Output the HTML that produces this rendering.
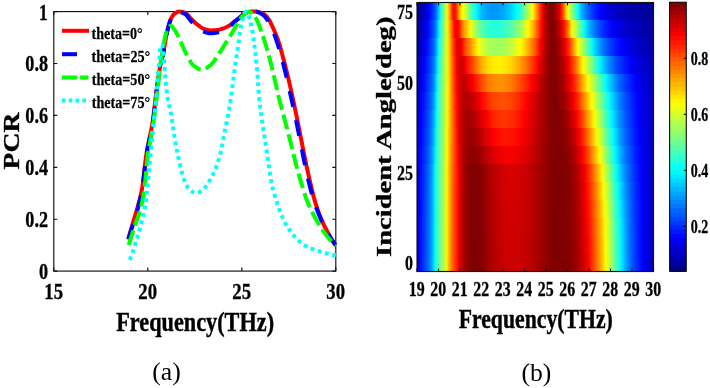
<!DOCTYPE html><html><head><meta charset="utf-8"><style>html,body{margin:0;padding:0;background:#fff;width:710px;height:388px;overflow:hidden}svg{display:block;will-change:transform}</style></head><body><svg width="710" height="388" viewBox="0 0 710 388" font-family="Liberation Serif, serif"><defs><linearGradient id="h0"><stop offset="0.000" stop-color="#0000e4"/><stop offset="0.008" stop-color="#0000fc"/><stop offset="0.017" stop-color="#0015ff"/><stop offset="0.025" stop-color="#002dff"/><stop offset="0.034" stop-color="#0045ff"/><stop offset="0.042" stop-color="#005dff"/><stop offset="0.050" stop-color="#0078ff"/><stop offset="0.059" stop-color="#0095ff"/><stop offset="0.067" stop-color="#00c0ff"/><stop offset="0.076" stop-color="#00fcff"/><stop offset="0.084" stop-color="#36ffc9"/><stop offset="0.092" stop-color="#5dffa2"/><stop offset="0.101" stop-color="#7fff80"/><stop offset="0.109" stop-color="#a1ff5e"/><stop offset="0.118" stop-color="#cdff32"/><stop offset="0.126" stop-color="#fff400"/><stop offset="0.134" stop-color="#ffba00"/><stop offset="0.143" stop-color="#ff8800"/><stop offset="0.151" stop-color="#ff5e00"/><stop offset="0.160" stop-color="#ff3d00"/><stop offset="0.168" stop-color="#ff1e00"/><stop offset="0.176" stop-color="#f50000"/><stop offset="0.185" stop-color="#cf0000"/><stop offset="0.193" stop-color="#b40000"/><stop offset="0.202" stop-color="#9f0000"/><stop offset="0.210" stop-color="#920000"/><stop offset="0.218" stop-color="#890000"/><stop offset="0.227" stop-color="#840000"/><stop offset="0.235" stop-color="#810000"/><stop offset="0.244" stop-color="#800000"/><stop offset="0.252" stop-color="#800000"/><stop offset="0.261" stop-color="#810000"/><stop offset="0.269" stop-color="#830000"/><stop offset="0.277" stop-color="#870000"/><stop offset="0.286" stop-color="#8f0000"/><stop offset="0.294" stop-color="#970000"/><stop offset="0.303" stop-color="#9f0000"/><stop offset="0.311" stop-color="#a60000"/><stop offset="0.319" stop-color="#ad0000"/><stop offset="0.328" stop-color="#b30000"/><stop offset="0.336" stop-color="#b80000"/><stop offset="0.345" stop-color="#bd0000"/><stop offset="0.353" stop-color="#c20000"/><stop offset="0.361" stop-color="#c60000"/><stop offset="0.370" stop-color="#c80000"/><stop offset="0.378" stop-color="#ca0000"/><stop offset="0.387" stop-color="#cc0000"/><stop offset="0.395" stop-color="#cc0000"/><stop offset="0.403" stop-color="#cc0000"/><stop offset="0.412" stop-color="#cc0000"/><stop offset="0.420" stop-color="#cb0000"/><stop offset="0.429" stop-color="#cb0000"/><stop offset="0.437" stop-color="#c90000"/><stop offset="0.445" stop-color="#c70000"/><stop offset="0.454" stop-color="#c50000"/><stop offset="0.462" stop-color="#c30000"/><stop offset="0.471" stop-color="#bf0000"/><stop offset="0.479" stop-color="#bb0000"/><stop offset="0.487" stop-color="#b70000"/><stop offset="0.496" stop-color="#b20000"/><stop offset="0.504" stop-color="#ac0000"/><stop offset="0.513" stop-color="#a60000"/><stop offset="0.521" stop-color="#a10000"/><stop offset="0.529" stop-color="#9c0000"/><stop offset="0.538" stop-color="#960000"/><stop offset="0.546" stop-color="#900000"/><stop offset="0.555" stop-color="#8b0000"/><stop offset="0.563" stop-color="#870000"/><stop offset="0.571" stop-color="#830000"/><stop offset="0.580" stop-color="#810000"/><stop offset="0.588" stop-color="#800000"/><stop offset="0.597" stop-color="#800000"/><stop offset="0.605" stop-color="#800000"/><stop offset="0.613" stop-color="#800000"/><stop offset="0.622" stop-color="#800000"/><stop offset="0.630" stop-color="#820000"/><stop offset="0.639" stop-color="#840000"/><stop offset="0.647" stop-color="#880000"/><stop offset="0.655" stop-color="#8c0000"/><stop offset="0.664" stop-color="#920000"/><stop offset="0.672" stop-color="#9b0000"/><stop offset="0.681" stop-color="#a60000"/><stop offset="0.689" stop-color="#b40000"/><stop offset="0.697" stop-color="#c40000"/><stop offset="0.706" stop-color="#d40000"/><stop offset="0.714" stop-color="#e60000"/><stop offset="0.723" stop-color="#f90000"/><stop offset="0.731" stop-color="#ff1100"/><stop offset="0.739" stop-color="#ff2b00"/><stop offset="0.748" stop-color="#ff4600"/><stop offset="0.756" stop-color="#ff6200"/><stop offset="0.765" stop-color="#ff7e00"/><stop offset="0.773" stop-color="#ff9c00"/><stop offset="0.782" stop-color="#ffbb00"/><stop offset="0.790" stop-color="#ffdb00"/><stop offset="0.798" stop-color="#fffd00"/><stop offset="0.807" stop-color="#dfff20"/><stop offset="0.815" stop-color="#bdff42"/><stop offset="0.824" stop-color="#99ff66"/><stop offset="0.832" stop-color="#75ff8a"/><stop offset="0.840" stop-color="#51ffae"/><stop offset="0.849" stop-color="#2dffd2"/><stop offset="0.857" stop-color="#0afff5"/><stop offset="0.866" stop-color="#00e9ff"/><stop offset="0.874" stop-color="#00caff"/><stop offset="0.882" stop-color="#00abff"/><stop offset="0.891" stop-color="#008eff"/><stop offset="0.899" stop-color="#0074ff"/><stop offset="0.908" stop-color="#005dff"/><stop offset="0.916" stop-color="#0049ff"/><stop offset="0.924" stop-color="#0036ff"/><stop offset="0.933" stop-color="#0025ff"/><stop offset="0.941" stop-color="#0015ff"/><stop offset="0.950" stop-color="#0007ff"/><stop offset="0.958" stop-color="#0000f8"/><stop offset="0.966" stop-color="#0000eb"/><stop offset="0.975" stop-color="#0000df"/><stop offset="0.983" stop-color="#0000d3"/><stop offset="0.992" stop-color="#0000c8"/><stop offset="1.000" stop-color="#0000be"/></linearGradient><linearGradient id="h1"><stop offset="0.000" stop-color="#0000e3"/><stop offset="0.008" stop-color="#0000fb"/><stop offset="0.017" stop-color="#0013ff"/><stop offset="0.025" stop-color="#002bff"/><stop offset="0.034" stop-color="#0043ff"/><stop offset="0.042" stop-color="#005bff"/><stop offset="0.050" stop-color="#0076ff"/><stop offset="0.059" stop-color="#0094ff"/><stop offset="0.067" stop-color="#00bfff"/><stop offset="0.076" stop-color="#00fbff"/><stop offset="0.084" stop-color="#35ffca"/><stop offset="0.092" stop-color="#5cffa3"/><stop offset="0.101" stop-color="#7eff81"/><stop offset="0.109" stop-color="#9fff60"/><stop offset="0.118" stop-color="#cbff34"/><stop offset="0.126" stop-color="#fff500"/><stop offset="0.134" stop-color="#ffbb00"/><stop offset="0.143" stop-color="#ff8a00"/><stop offset="0.151" stop-color="#ff5f00"/><stop offset="0.160" stop-color="#ff3e00"/><stop offset="0.168" stop-color="#ff1f00"/><stop offset="0.176" stop-color="#f60000"/><stop offset="0.185" stop-color="#d00000"/><stop offset="0.193" stop-color="#b40000"/><stop offset="0.202" stop-color="#a00000"/><stop offset="0.210" stop-color="#930000"/><stop offset="0.218" stop-color="#890000"/><stop offset="0.227" stop-color="#850000"/><stop offset="0.235" stop-color="#810000"/><stop offset="0.244" stop-color="#800000"/><stop offset="0.252" stop-color="#800000"/><stop offset="0.261" stop-color="#820000"/><stop offset="0.269" stop-color="#840000"/><stop offset="0.277" stop-color="#890000"/><stop offset="0.286" stop-color="#900000"/><stop offset="0.294" stop-color="#990000"/><stop offset="0.303" stop-color="#a10000"/><stop offset="0.311" stop-color="#a80000"/><stop offset="0.319" stop-color="#af0000"/><stop offset="0.328" stop-color="#b50000"/><stop offset="0.336" stop-color="#ba0000"/><stop offset="0.345" stop-color="#c00000"/><stop offset="0.353" stop-color="#c40000"/><stop offset="0.361" stop-color="#c80000"/><stop offset="0.370" stop-color="#cb0000"/><stop offset="0.378" stop-color="#cd0000"/><stop offset="0.387" stop-color="#ce0000"/><stop offset="0.395" stop-color="#cf0000"/><stop offset="0.403" stop-color="#cf0000"/><stop offset="0.412" stop-color="#ce0000"/><stop offset="0.420" stop-color="#cd0000"/><stop offset="0.429" stop-color="#cd0000"/><stop offset="0.437" stop-color="#cb0000"/><stop offset="0.445" stop-color="#c90000"/><stop offset="0.454" stop-color="#c60000"/><stop offset="0.462" stop-color="#c40000"/><stop offset="0.471" stop-color="#c00000"/><stop offset="0.479" stop-color="#bc0000"/><stop offset="0.487" stop-color="#b80000"/><stop offset="0.496" stop-color="#b30000"/><stop offset="0.504" stop-color="#ad0000"/><stop offset="0.513" stop-color="#a70000"/><stop offset="0.521" stop-color="#a10000"/><stop offset="0.529" stop-color="#9c0000"/><stop offset="0.538" stop-color="#960000"/><stop offset="0.546" stop-color="#910000"/><stop offset="0.555" stop-color="#8b0000"/><stop offset="0.563" stop-color="#870000"/><stop offset="0.571" stop-color="#840000"/><stop offset="0.580" stop-color="#810000"/><stop offset="0.588" stop-color="#800000"/><stop offset="0.597" stop-color="#800000"/><stop offset="0.605" stop-color="#800000"/><stop offset="0.613" stop-color="#800000"/><stop offset="0.622" stop-color="#810000"/><stop offset="0.630" stop-color="#830000"/><stop offset="0.639" stop-color="#860000"/><stop offset="0.647" stop-color="#890000"/><stop offset="0.655" stop-color="#8e0000"/><stop offset="0.664" stop-color="#950000"/><stop offset="0.672" stop-color="#9e0000"/><stop offset="0.681" stop-color="#a90000"/><stop offset="0.689" stop-color="#b70000"/><stop offset="0.697" stop-color="#c70000"/><stop offset="0.706" stop-color="#d80000"/><stop offset="0.714" stop-color="#ea0000"/><stop offset="0.723" stop-color="#fe0000"/><stop offset="0.731" stop-color="#ff1600"/><stop offset="0.739" stop-color="#ff3000"/><stop offset="0.748" stop-color="#ff4b00"/><stop offset="0.756" stop-color="#ff6600"/><stop offset="0.765" stop-color="#ff8300"/><stop offset="0.773" stop-color="#ffa100"/><stop offset="0.782" stop-color="#ffc100"/><stop offset="0.790" stop-color="#ffe100"/><stop offset="0.798" stop-color="#fcff03"/><stop offset="0.807" stop-color="#daff25"/><stop offset="0.815" stop-color="#b7ff48"/><stop offset="0.824" stop-color="#94ff6b"/><stop offset="0.832" stop-color="#70ff8f"/><stop offset="0.840" stop-color="#4cffb3"/><stop offset="0.849" stop-color="#28ffd7"/><stop offset="0.857" stop-color="#05fffa"/><stop offset="0.866" stop-color="#00e4ff"/><stop offset="0.874" stop-color="#00c5ff"/><stop offset="0.882" stop-color="#00a7ff"/><stop offset="0.891" stop-color="#008aff"/><stop offset="0.899" stop-color="#0072ff"/><stop offset="0.908" stop-color="#005bff"/><stop offset="0.916" stop-color="#0047ff"/><stop offset="0.924" stop-color="#0035ff"/><stop offset="0.933" stop-color="#0024ff"/><stop offset="0.941" stop-color="#0014ff"/><stop offset="0.950" stop-color="#0006ff"/><stop offset="0.958" stop-color="#0000f7"/><stop offset="0.966" stop-color="#0000ea"/><stop offset="0.975" stop-color="#0000de"/><stop offset="0.983" stop-color="#0000d3"/><stop offset="0.992" stop-color="#0000c8"/><stop offset="1.000" stop-color="#0000be"/></linearGradient><linearGradient id="h2"><stop offset="0.000" stop-color="#0000e2"/><stop offset="0.008" stop-color="#0000fa"/><stop offset="0.017" stop-color="#0012ff"/><stop offset="0.025" stop-color="#002aff"/><stop offset="0.034" stop-color="#0042ff"/><stop offset="0.042" stop-color="#005aff"/><stop offset="0.050" stop-color="#0074ff"/><stop offset="0.059" stop-color="#0093ff"/><stop offset="0.067" stop-color="#00beff"/><stop offset="0.076" stop-color="#00f9ff"/><stop offset="0.084" stop-color="#33ffcc"/><stop offset="0.092" stop-color="#5bffa4"/><stop offset="0.101" stop-color="#7dff82"/><stop offset="0.109" stop-color="#9eff61"/><stop offset="0.118" stop-color="#caff35"/><stop offset="0.126" stop-color="#fff700"/><stop offset="0.134" stop-color="#ffbd00"/><stop offset="0.143" stop-color="#ff8b00"/><stop offset="0.151" stop-color="#ff6000"/><stop offset="0.160" stop-color="#ff3e00"/><stop offset="0.168" stop-color="#ff2000"/><stop offset="0.176" stop-color="#f70000"/><stop offset="0.185" stop-color="#d00000"/><stop offset="0.193" stop-color="#b50000"/><stop offset="0.202" stop-color="#a00000"/><stop offset="0.210" stop-color="#930000"/><stop offset="0.218" stop-color="#8a0000"/><stop offset="0.227" stop-color="#850000"/><stop offset="0.235" stop-color="#810000"/><stop offset="0.244" stop-color="#800000"/><stop offset="0.252" stop-color="#810000"/><stop offset="0.261" stop-color="#830000"/><stop offset="0.269" stop-color="#850000"/><stop offset="0.277" stop-color="#8a0000"/><stop offset="0.286" stop-color="#920000"/><stop offset="0.294" stop-color="#9b0000"/><stop offset="0.303" stop-color="#a30000"/><stop offset="0.311" stop-color="#aa0000"/><stop offset="0.319" stop-color="#b10000"/><stop offset="0.328" stop-color="#b70000"/><stop offset="0.336" stop-color="#bc0000"/><stop offset="0.345" stop-color="#c20000"/><stop offset="0.353" stop-color="#c70000"/><stop offset="0.361" stop-color="#ca0000"/><stop offset="0.370" stop-color="#cd0000"/><stop offset="0.378" stop-color="#cf0000"/><stop offset="0.387" stop-color="#d10000"/><stop offset="0.395" stop-color="#d10000"/><stop offset="0.403" stop-color="#d10000"/><stop offset="0.412" stop-color="#d00000"/><stop offset="0.420" stop-color="#d00000"/><stop offset="0.429" stop-color="#cf0000"/><stop offset="0.437" stop-color="#cd0000"/><stop offset="0.445" stop-color="#cb0000"/><stop offset="0.454" stop-color="#c80000"/><stop offset="0.462" stop-color="#c50000"/><stop offset="0.471" stop-color="#c10000"/><stop offset="0.479" stop-color="#bd0000"/><stop offset="0.487" stop-color="#b90000"/><stop offset="0.496" stop-color="#b30000"/><stop offset="0.504" stop-color="#ad0000"/><stop offset="0.513" stop-color="#a70000"/><stop offset="0.521" stop-color="#a10000"/><stop offset="0.529" stop-color="#9c0000"/><stop offset="0.538" stop-color="#960000"/><stop offset="0.546" stop-color="#910000"/><stop offset="0.555" stop-color="#8b0000"/><stop offset="0.563" stop-color="#870000"/><stop offset="0.571" stop-color="#840000"/><stop offset="0.580" stop-color="#820000"/><stop offset="0.588" stop-color="#800000"/><stop offset="0.597" stop-color="#800000"/><stop offset="0.605" stop-color="#800000"/><stop offset="0.613" stop-color="#810000"/><stop offset="0.622" stop-color="#820000"/><stop offset="0.630" stop-color="#840000"/><stop offset="0.639" stop-color="#870000"/><stop offset="0.647" stop-color="#8b0000"/><stop offset="0.655" stop-color="#900000"/><stop offset="0.664" stop-color="#970000"/><stop offset="0.672" stop-color="#a10000"/><stop offset="0.681" stop-color="#ac0000"/><stop offset="0.689" stop-color="#ba0000"/><stop offset="0.697" stop-color="#ca0000"/><stop offset="0.706" stop-color="#dc0000"/><stop offset="0.714" stop-color="#ee0000"/><stop offset="0.723" stop-color="#ff0300"/><stop offset="0.731" stop-color="#ff1a00"/><stop offset="0.739" stop-color="#ff3400"/><stop offset="0.748" stop-color="#ff5000"/><stop offset="0.756" stop-color="#ff6b00"/><stop offset="0.765" stop-color="#ff8800"/><stop offset="0.773" stop-color="#ffa700"/><stop offset="0.782" stop-color="#ffc600"/><stop offset="0.790" stop-color="#ffe600"/><stop offset="0.798" stop-color="#f7ff08"/><stop offset="0.807" stop-color="#d5ff2a"/><stop offset="0.815" stop-color="#b2ff4d"/><stop offset="0.824" stop-color="#8eff71"/><stop offset="0.832" stop-color="#6aff95"/><stop offset="0.840" stop-color="#46ffb9"/><stop offset="0.849" stop-color="#22ffdd"/><stop offset="0.857" stop-color="#00ffff"/><stop offset="0.866" stop-color="#00dfff"/><stop offset="0.874" stop-color="#00c0ff"/><stop offset="0.882" stop-color="#00a3ff"/><stop offset="0.891" stop-color="#0087ff"/><stop offset="0.899" stop-color="#006fff"/><stop offset="0.908" stop-color="#005aff"/><stop offset="0.916" stop-color="#0046ff"/><stop offset="0.924" stop-color="#0034ff"/><stop offset="0.933" stop-color="#0023ff"/><stop offset="0.941" stop-color="#0014ff"/><stop offset="0.950" stop-color="#0005ff"/><stop offset="0.958" stop-color="#0000f7"/><stop offset="0.966" stop-color="#0000ea"/><stop offset="0.975" stop-color="#0000de"/><stop offset="0.983" stop-color="#0000d3"/><stop offset="0.992" stop-color="#0000c8"/><stop offset="1.000" stop-color="#0000bf"/></linearGradient><linearGradient id="h3"><stop offset="0.000" stop-color="#0000e1"/><stop offset="0.008" stop-color="#0000f8"/><stop offset="0.017" stop-color="#0011ff"/><stop offset="0.025" stop-color="#0029ff"/><stop offset="0.034" stop-color="#0040ff"/><stop offset="0.042" stop-color="#0058ff"/><stop offset="0.050" stop-color="#0072ff"/><stop offset="0.059" stop-color="#0092ff"/><stop offset="0.067" stop-color="#00bdff"/><stop offset="0.076" stop-color="#00f8ff"/><stop offset="0.084" stop-color="#31ffce"/><stop offset="0.092" stop-color="#59ffa6"/><stop offset="0.101" stop-color="#7bff84"/><stop offset="0.109" stop-color="#9dff62"/><stop offset="0.118" stop-color="#c8ff37"/><stop offset="0.126" stop-color="#fff900"/><stop offset="0.134" stop-color="#ffbe00"/><stop offset="0.143" stop-color="#ff8d00"/><stop offset="0.151" stop-color="#ff6100"/><stop offset="0.160" stop-color="#ff3f00"/><stop offset="0.168" stop-color="#ff2100"/><stop offset="0.176" stop-color="#f80000"/><stop offset="0.185" stop-color="#d00000"/><stop offset="0.193" stop-color="#b50000"/><stop offset="0.202" stop-color="#a00000"/><stop offset="0.210" stop-color="#930000"/><stop offset="0.218" stop-color="#8a0000"/><stop offset="0.227" stop-color="#850000"/><stop offset="0.235" stop-color="#820000"/><stop offset="0.244" stop-color="#800000"/><stop offset="0.252" stop-color="#810000"/><stop offset="0.261" stop-color="#840000"/><stop offset="0.269" stop-color="#860000"/><stop offset="0.277" stop-color="#8b0000"/><stop offset="0.286" stop-color="#930000"/><stop offset="0.294" stop-color="#9d0000"/><stop offset="0.303" stop-color="#a50000"/><stop offset="0.311" stop-color="#ac0000"/><stop offset="0.319" stop-color="#b30000"/><stop offset="0.328" stop-color="#b90000"/><stop offset="0.336" stop-color="#be0000"/><stop offset="0.345" stop-color="#c40000"/><stop offset="0.353" stop-color="#c90000"/><stop offset="0.361" stop-color="#cd0000"/><stop offset="0.370" stop-color="#cf0000"/><stop offset="0.378" stop-color="#d10000"/><stop offset="0.387" stop-color="#d30000"/><stop offset="0.395" stop-color="#d40000"/><stop offset="0.403" stop-color="#d30000"/><stop offset="0.412" stop-color="#d30000"/><stop offset="0.420" stop-color="#d20000"/><stop offset="0.429" stop-color="#d10000"/><stop offset="0.437" stop-color="#cf0000"/><stop offset="0.445" stop-color="#cc0000"/><stop offset="0.454" stop-color="#c90000"/><stop offset="0.462" stop-color="#c60000"/><stop offset="0.471" stop-color="#c30000"/><stop offset="0.479" stop-color="#be0000"/><stop offset="0.487" stop-color="#b90000"/><stop offset="0.496" stop-color="#b40000"/><stop offset="0.504" stop-color="#ad0000"/><stop offset="0.513" stop-color="#a70000"/><stop offset="0.521" stop-color="#a10000"/><stop offset="0.529" stop-color="#9c0000"/><stop offset="0.538" stop-color="#960000"/><stop offset="0.546" stop-color="#900000"/><stop offset="0.555" stop-color="#8b0000"/><stop offset="0.563" stop-color="#870000"/><stop offset="0.571" stop-color="#840000"/><stop offset="0.580" stop-color="#820000"/><stop offset="0.588" stop-color="#810000"/><stop offset="0.597" stop-color="#800000"/><stop offset="0.605" stop-color="#800000"/><stop offset="0.613" stop-color="#800000"/><stop offset="0.622" stop-color="#820000"/><stop offset="0.630" stop-color="#840000"/><stop offset="0.639" stop-color="#870000"/><stop offset="0.647" stop-color="#8c0000"/><stop offset="0.655" stop-color="#920000"/><stop offset="0.664" stop-color="#990000"/><stop offset="0.672" stop-color="#a30000"/><stop offset="0.681" stop-color="#b00000"/><stop offset="0.689" stop-color="#be0000"/><stop offset="0.697" stop-color="#cf0000"/><stop offset="0.706" stop-color="#e10000"/><stop offset="0.714" stop-color="#f40000"/><stop offset="0.723" stop-color="#ff0a00"/><stop offset="0.731" stop-color="#ff2200"/><stop offset="0.739" stop-color="#ff3d00"/><stop offset="0.748" stop-color="#ff5800"/><stop offset="0.756" stop-color="#ff7400"/><stop offset="0.765" stop-color="#ff9200"/><stop offset="0.773" stop-color="#ffb100"/><stop offset="0.782" stop-color="#ffd100"/><stop offset="0.790" stop-color="#fff200"/><stop offset="0.798" stop-color="#ecff13"/><stop offset="0.807" stop-color="#c9ff36"/><stop offset="0.815" stop-color="#a6ff59"/><stop offset="0.824" stop-color="#81ff7e"/><stop offset="0.832" stop-color="#5dffa2"/><stop offset="0.840" stop-color="#39ffc6"/><stop offset="0.849" stop-color="#16ffe9"/><stop offset="0.857" stop-color="#00f4ff"/><stop offset="0.866" stop-color="#00d5ff"/><stop offset="0.874" stop-color="#00b7ff"/><stop offset="0.882" stop-color="#009bff"/><stop offset="0.891" stop-color="#0081ff"/><stop offset="0.899" stop-color="#006aff"/><stop offset="0.908" stop-color="#0056ff"/><stop offset="0.916" stop-color="#0043ff"/><stop offset="0.924" stop-color="#0031ff"/><stop offset="0.933" stop-color="#0021ff"/><stop offset="0.941" stop-color="#0012ff"/><stop offset="0.950" stop-color="#0003ff"/><stop offset="0.958" stop-color="#0000f5"/><stop offset="0.966" stop-color="#0000e9"/><stop offset="0.975" stop-color="#0000dd"/><stop offset="0.983" stop-color="#0000d2"/><stop offset="0.992" stop-color="#0000c8"/><stop offset="1.000" stop-color="#0000bf"/></linearGradient><linearGradient id="h4"><stop offset="0.000" stop-color="#0000e0"/><stop offset="0.008" stop-color="#0000f7"/><stop offset="0.017" stop-color="#0010ff"/><stop offset="0.025" stop-color="#0027ff"/><stop offset="0.034" stop-color="#003fff"/><stop offset="0.042" stop-color="#0056ff"/><stop offset="0.050" stop-color="#0071ff"/><stop offset="0.059" stop-color="#0091ff"/><stop offset="0.067" stop-color="#00bcff"/><stop offset="0.076" stop-color="#00f6ff"/><stop offset="0.084" stop-color="#30ffcf"/><stop offset="0.092" stop-color="#58ffa7"/><stop offset="0.101" stop-color="#7aff85"/><stop offset="0.109" stop-color="#9cff63"/><stop offset="0.118" stop-color="#c6ff39"/><stop offset="0.126" stop-color="#fffa00"/><stop offset="0.134" stop-color="#ffbf00"/><stop offset="0.143" stop-color="#ff8e00"/><stop offset="0.151" stop-color="#ff6200"/><stop offset="0.160" stop-color="#ff4000"/><stop offset="0.168" stop-color="#ff2200"/><stop offset="0.176" stop-color="#f90000"/><stop offset="0.185" stop-color="#d10000"/><stop offset="0.193" stop-color="#b50000"/><stop offset="0.202" stop-color="#a10000"/><stop offset="0.210" stop-color="#940000"/><stop offset="0.218" stop-color="#8a0000"/><stop offset="0.227" stop-color="#850000"/><stop offset="0.235" stop-color="#820000"/><stop offset="0.244" stop-color="#810000"/><stop offset="0.252" stop-color="#820000"/><stop offset="0.261" stop-color="#840000"/><stop offset="0.269" stop-color="#870000"/><stop offset="0.277" stop-color="#8c0000"/><stop offset="0.286" stop-color="#950000"/><stop offset="0.294" stop-color="#9e0000"/><stop offset="0.303" stop-color="#a70000"/><stop offset="0.311" stop-color="#ae0000"/><stop offset="0.319" stop-color="#b50000"/><stop offset="0.328" stop-color="#bb0000"/><stop offset="0.336" stop-color="#c00000"/><stop offset="0.345" stop-color="#c60000"/><stop offset="0.353" stop-color="#cb0000"/><stop offset="0.361" stop-color="#cf0000"/><stop offset="0.370" stop-color="#d20000"/><stop offset="0.378" stop-color="#d40000"/><stop offset="0.387" stop-color="#d50000"/><stop offset="0.395" stop-color="#d60000"/><stop offset="0.403" stop-color="#d60000"/><stop offset="0.412" stop-color="#d50000"/><stop offset="0.420" stop-color="#d40000"/><stop offset="0.429" stop-color="#d30000"/><stop offset="0.437" stop-color="#d10000"/><stop offset="0.445" stop-color="#ce0000"/><stop offset="0.454" stop-color="#cb0000"/><stop offset="0.462" stop-color="#c80000"/><stop offset="0.471" stop-color="#c40000"/><stop offset="0.479" stop-color="#bf0000"/><stop offset="0.487" stop-color="#ba0000"/><stop offset="0.496" stop-color="#b50000"/><stop offset="0.504" stop-color="#ae0000"/><stop offset="0.513" stop-color="#a80000"/><stop offset="0.521" stop-color="#a20000"/><stop offset="0.529" stop-color="#9c0000"/><stop offset="0.538" stop-color="#960000"/><stop offset="0.546" stop-color="#900000"/><stop offset="0.555" stop-color="#8b0000"/><stop offset="0.563" stop-color="#870000"/><stop offset="0.571" stop-color="#840000"/><stop offset="0.580" stop-color="#820000"/><stop offset="0.588" stop-color="#810000"/><stop offset="0.597" stop-color="#800000"/><stop offset="0.605" stop-color="#800000"/><stop offset="0.613" stop-color="#800000"/><stop offset="0.622" stop-color="#820000"/><stop offset="0.630" stop-color="#850000"/><stop offset="0.639" stop-color="#880000"/><stop offset="0.647" stop-color="#8c0000"/><stop offset="0.655" stop-color="#930000"/><stop offset="0.664" stop-color="#9b0000"/><stop offset="0.672" stop-color="#a60000"/><stop offset="0.681" stop-color="#b40000"/><stop offset="0.689" stop-color="#c30000"/><stop offset="0.697" stop-color="#d40000"/><stop offset="0.706" stop-color="#e60000"/><stop offset="0.714" stop-color="#fb0000"/><stop offset="0.723" stop-color="#ff1300"/><stop offset="0.731" stop-color="#ff2c00"/><stop offset="0.739" stop-color="#ff4700"/><stop offset="0.748" stop-color="#ff6300"/><stop offset="0.756" stop-color="#ff8000"/><stop offset="0.765" stop-color="#ff9e00"/><stop offset="0.773" stop-color="#ffbf00"/><stop offset="0.782" stop-color="#ffdf00"/><stop offset="0.790" stop-color="#feff01"/><stop offset="0.798" stop-color="#ddff22"/><stop offset="0.807" stop-color="#baff45"/><stop offset="0.815" stop-color="#95ff6a"/><stop offset="0.824" stop-color="#70ff8f"/><stop offset="0.832" stop-color="#4dffb2"/><stop offset="0.840" stop-color="#2affd5"/><stop offset="0.849" stop-color="#08fff7"/><stop offset="0.857" stop-color="#00e7ff"/><stop offset="0.866" stop-color="#00c9ff"/><stop offset="0.874" stop-color="#00acff"/><stop offset="0.882" stop-color="#0091ff"/><stop offset="0.891" stop-color="#0079ff"/><stop offset="0.899" stop-color="#0064ff"/><stop offset="0.908" stop-color="#0051ff"/><stop offset="0.916" stop-color="#003fff"/><stop offset="0.924" stop-color="#002eff"/><stop offset="0.933" stop-color="#001eff"/><stop offset="0.941" stop-color="#000fff"/><stop offset="0.950" stop-color="#0001ff"/><stop offset="0.958" stop-color="#0000f3"/><stop offset="0.966" stop-color="#0000e7"/><stop offset="0.975" stop-color="#0000dc"/><stop offset="0.983" stop-color="#0000d2"/><stop offset="0.992" stop-color="#0000c8"/><stop offset="1.000" stop-color="#0000bf"/></linearGradient><linearGradient id="h5"><stop offset="0.000" stop-color="#0000df"/><stop offset="0.008" stop-color="#0000f6"/><stop offset="0.017" stop-color="#000fff"/><stop offset="0.025" stop-color="#0026ff"/><stop offset="0.034" stop-color="#003dff"/><stop offset="0.042" stop-color="#0054ff"/><stop offset="0.050" stop-color="#006fff"/><stop offset="0.059" stop-color="#008fff"/><stop offset="0.067" stop-color="#00bbff"/><stop offset="0.076" stop-color="#00f4ff"/><stop offset="0.084" stop-color="#2effd1"/><stop offset="0.092" stop-color="#57ffa8"/><stop offset="0.101" stop-color="#79ff86"/><stop offset="0.109" stop-color="#9bff64"/><stop offset="0.118" stop-color="#c4ff3b"/><stop offset="0.126" stop-color="#fffc00"/><stop offset="0.134" stop-color="#ffc100"/><stop offset="0.143" stop-color="#ff9000"/><stop offset="0.151" stop-color="#ff6300"/><stop offset="0.160" stop-color="#ff4000"/><stop offset="0.168" stop-color="#ff2300"/><stop offset="0.176" stop-color="#fa0000"/><stop offset="0.185" stop-color="#d10000"/><stop offset="0.193" stop-color="#b60000"/><stop offset="0.202" stop-color="#a10000"/><stop offset="0.210" stop-color="#940000"/><stop offset="0.218" stop-color="#8a0000"/><stop offset="0.227" stop-color="#850000"/><stop offset="0.235" stop-color="#820000"/><stop offset="0.244" stop-color="#810000"/><stop offset="0.252" stop-color="#820000"/><stop offset="0.261" stop-color="#850000"/><stop offset="0.269" stop-color="#890000"/><stop offset="0.277" stop-color="#8e0000"/><stop offset="0.286" stop-color="#960000"/><stop offset="0.294" stop-color="#a00000"/><stop offset="0.303" stop-color="#a90000"/><stop offset="0.311" stop-color="#b00000"/><stop offset="0.319" stop-color="#b70000"/><stop offset="0.328" stop-color="#bd0000"/><stop offset="0.336" stop-color="#c30000"/><stop offset="0.345" stop-color="#c80000"/><stop offset="0.353" stop-color="#cd0000"/><stop offset="0.361" stop-color="#d10000"/><stop offset="0.370" stop-color="#d40000"/><stop offset="0.378" stop-color="#d60000"/><stop offset="0.387" stop-color="#d80000"/><stop offset="0.395" stop-color="#d80000"/><stop offset="0.403" stop-color="#d80000"/><stop offset="0.412" stop-color="#d70000"/><stop offset="0.420" stop-color="#d60000"/><stop offset="0.429" stop-color="#d50000"/><stop offset="0.437" stop-color="#d30000"/><stop offset="0.445" stop-color="#d00000"/><stop offset="0.454" stop-color="#cd0000"/><stop offset="0.462" stop-color="#c90000"/><stop offset="0.471" stop-color="#c50000"/><stop offset="0.479" stop-color="#c00000"/><stop offset="0.487" stop-color="#bb0000"/><stop offset="0.496" stop-color="#b60000"/><stop offset="0.504" stop-color="#af0000"/><stop offset="0.513" stop-color="#a80000"/><stop offset="0.521" stop-color="#a20000"/><stop offset="0.529" stop-color="#9c0000"/><stop offset="0.538" stop-color="#960000"/><stop offset="0.546" stop-color="#900000"/><stop offset="0.555" stop-color="#8b0000"/><stop offset="0.563" stop-color="#870000"/><stop offset="0.571" stop-color="#840000"/><stop offset="0.580" stop-color="#810000"/><stop offset="0.588" stop-color="#800000"/><stop offset="0.597" stop-color="#800000"/><stop offset="0.605" stop-color="#800000"/><stop offset="0.613" stop-color="#800000"/><stop offset="0.622" stop-color="#820000"/><stop offset="0.630" stop-color="#850000"/><stop offset="0.639" stop-color="#890000"/><stop offset="0.647" stop-color="#8d0000"/><stop offset="0.655" stop-color="#950000"/><stop offset="0.664" stop-color="#9e0000"/><stop offset="0.672" stop-color="#aa0000"/><stop offset="0.681" stop-color="#b90000"/><stop offset="0.689" stop-color="#c90000"/><stop offset="0.697" stop-color="#db0000"/><stop offset="0.706" stop-color="#ef0000"/><stop offset="0.714" stop-color="#ff0600"/><stop offset="0.723" stop-color="#ff1f00"/><stop offset="0.731" stop-color="#ff3a00"/><stop offset="0.739" stop-color="#ff5600"/><stop offset="0.748" stop-color="#ff7400"/><stop offset="0.756" stop-color="#ff9300"/><stop offset="0.765" stop-color="#ffb300"/><stop offset="0.773" stop-color="#ffd500"/><stop offset="0.782" stop-color="#fff600"/><stop offset="0.790" stop-color="#e6ff19"/><stop offset="0.798" stop-color="#c3ff3c"/><stop offset="0.807" stop-color="#9eff61"/><stop offset="0.815" stop-color="#78ff87"/><stop offset="0.824" stop-color="#55ffaa"/><stop offset="0.832" stop-color="#32ffcd"/><stop offset="0.840" stop-color="#11ffee"/><stop offset="0.849" stop-color="#00f1ff"/><stop offset="0.857" stop-color="#00d3ff"/><stop offset="0.866" stop-color="#00b6ff"/><stop offset="0.874" stop-color="#009cff"/><stop offset="0.882" stop-color="#0084ff"/><stop offset="0.891" stop-color="#006fff"/><stop offset="0.899" stop-color="#005cff"/><stop offset="0.908" stop-color="#004aff"/><stop offset="0.916" stop-color="#0039ff"/><stop offset="0.924" stop-color="#0029ff"/><stop offset="0.933" stop-color="#001aff"/><stop offset="0.941" stop-color="#000bff"/><stop offset="0.950" stop-color="#0000fd"/><stop offset="0.958" stop-color="#0000f1"/><stop offset="0.966" stop-color="#0000e6"/><stop offset="0.975" stop-color="#0000db"/><stop offset="0.983" stop-color="#0000d1"/><stop offset="0.992" stop-color="#0000c8"/><stop offset="1.000" stop-color="#0000c0"/></linearGradient><linearGradient id="h6"><stop offset="0.000" stop-color="#0000da"/><stop offset="0.008" stop-color="#0000f1"/><stop offset="0.017" stop-color="#0009ff"/><stop offset="0.025" stop-color="#0020ff"/><stop offset="0.034" stop-color="#0037ff"/><stop offset="0.042" stop-color="#004dff"/><stop offset="0.050" stop-color="#0066ff"/><stop offset="0.059" stop-color="#0085ff"/><stop offset="0.067" stop-color="#00aeff"/><stop offset="0.076" stop-color="#00e7ff"/><stop offset="0.084" stop-color="#25ffda"/><stop offset="0.092" stop-color="#52ffad"/><stop offset="0.101" stop-color="#75ff8a"/><stop offset="0.109" stop-color="#97ff68"/><stop offset="0.118" stop-color="#c1ff3e"/><stop offset="0.126" stop-color="#feff01"/><stop offset="0.134" stop-color="#ffc700"/><stop offset="0.143" stop-color="#ff9600"/><stop offset="0.151" stop-color="#ff6800"/><stop offset="0.160" stop-color="#ff4400"/><stop offset="0.168" stop-color="#ff1e00"/><stop offset="0.176" stop-color="#f20000"/><stop offset="0.185" stop-color="#d00000"/><stop offset="0.193" stop-color="#b60000"/><stop offset="0.202" stop-color="#a50000"/><stop offset="0.210" stop-color="#990000"/><stop offset="0.218" stop-color="#920000"/><stop offset="0.227" stop-color="#8e0000"/><stop offset="0.235" stop-color="#8d0000"/><stop offset="0.244" stop-color="#8f0000"/><stop offset="0.252" stop-color="#930000"/><stop offset="0.261" stop-color="#980000"/><stop offset="0.269" stop-color="#9e0000"/><stop offset="0.277" stop-color="#a80000"/><stop offset="0.286" stop-color="#b30000"/><stop offset="0.294" stop-color="#bd0000"/><stop offset="0.303" stop-color="#c60000"/><stop offset="0.311" stop-color="#cf0000"/><stop offset="0.319" stop-color="#d60000"/><stop offset="0.328" stop-color="#dd0000"/><stop offset="0.336" stop-color="#e40000"/><stop offset="0.345" stop-color="#ea0000"/><stop offset="0.353" stop-color="#ee0000"/><stop offset="0.361" stop-color="#f10000"/><stop offset="0.370" stop-color="#f40000"/><stop offset="0.378" stop-color="#f50000"/><stop offset="0.387" stop-color="#f60000"/><stop offset="0.395" stop-color="#f60000"/><stop offset="0.403" stop-color="#f40000"/><stop offset="0.412" stop-color="#f20000"/><stop offset="0.420" stop-color="#f00000"/><stop offset="0.429" stop-color="#ee0000"/><stop offset="0.437" stop-color="#ea0000"/><stop offset="0.445" stop-color="#e50000"/><stop offset="0.454" stop-color="#e00000"/><stop offset="0.462" stop-color="#db0000"/><stop offset="0.471" stop-color="#d50000"/><stop offset="0.479" stop-color="#cf0000"/><stop offset="0.487" stop-color="#c80000"/><stop offset="0.496" stop-color="#c00000"/><stop offset="0.504" stop-color="#b80000"/><stop offset="0.513" stop-color="#b10000"/><stop offset="0.521" stop-color="#aa0000"/><stop offset="0.529" stop-color="#a30000"/><stop offset="0.538" stop-color="#9b0000"/><stop offset="0.546" stop-color="#940000"/><stop offset="0.555" stop-color="#8f0000"/><stop offset="0.563" stop-color="#8a0000"/><stop offset="0.571" stop-color="#860000"/><stop offset="0.580" stop-color="#830000"/><stop offset="0.588" stop-color="#810000"/><stop offset="0.597" stop-color="#800000"/><stop offset="0.605" stop-color="#800000"/><stop offset="0.613" stop-color="#810000"/><stop offset="0.622" stop-color="#850000"/><stop offset="0.630" stop-color="#8a0000"/><stop offset="0.639" stop-color="#8f0000"/><stop offset="0.647" stop-color="#970000"/><stop offset="0.655" stop-color="#a20000"/><stop offset="0.664" stop-color="#af0000"/><stop offset="0.672" stop-color="#bf0000"/><stop offset="0.681" stop-color="#d10000"/><stop offset="0.689" stop-color="#e40000"/><stop offset="0.697" stop-color="#f90000"/><stop offset="0.706" stop-color="#ff1000"/><stop offset="0.714" stop-color="#ff2a00"/><stop offset="0.723" stop-color="#ff4600"/><stop offset="0.731" stop-color="#ff6200"/><stop offset="0.739" stop-color="#ff8100"/><stop offset="0.748" stop-color="#ffa000"/><stop offset="0.756" stop-color="#ffc000"/><stop offset="0.765" stop-color="#ffe100"/><stop offset="0.773" stop-color="#fdff02"/><stop offset="0.782" stop-color="#dcff23"/><stop offset="0.790" stop-color="#baff45"/><stop offset="0.798" stop-color="#96ff69"/><stop offset="0.807" stop-color="#72ff8d"/><stop offset="0.815" stop-color="#51ffae"/><stop offset="0.824" stop-color="#30ffcf"/><stop offset="0.832" stop-color="#11ffee"/><stop offset="0.840" stop-color="#00f2ff"/><stop offset="0.849" stop-color="#00d5ff"/><stop offset="0.857" stop-color="#00b9ff"/><stop offset="0.866" stop-color="#00a0ff"/><stop offset="0.874" stop-color="#0088ff"/><stop offset="0.882" stop-color="#0073ff"/><stop offset="0.891" stop-color="#0061ff"/><stop offset="0.899" stop-color="#004fff"/><stop offset="0.908" stop-color="#003fff"/><stop offset="0.916" stop-color="#0030ff"/><stop offset="0.924" stop-color="#0021ff"/><stop offset="0.933" stop-color="#0013ff"/><stop offset="0.941" stop-color="#0006ff"/><stop offset="0.950" stop-color="#0000f8"/><stop offset="0.958" stop-color="#0000ed"/><stop offset="0.966" stop-color="#0000e3"/><stop offset="0.975" stop-color="#0000d9"/><stop offset="0.983" stop-color="#0000d0"/><stop offset="0.992" stop-color="#0000c7"/><stop offset="1.000" stop-color="#0000bf"/></linearGradient><linearGradient id="h7"><stop offset="0.000" stop-color="#0000d4"/><stop offset="0.008" stop-color="#0000eb"/><stop offset="0.017" stop-color="#0003ff"/><stop offset="0.025" stop-color="#001aff"/><stop offset="0.034" stop-color="#0030ff"/><stop offset="0.042" stop-color="#0046ff"/><stop offset="0.050" stop-color="#005eff"/><stop offset="0.059" stop-color="#007cff"/><stop offset="0.067" stop-color="#00a2ff"/><stop offset="0.076" stop-color="#00d9ff"/><stop offset="0.084" stop-color="#1cffe3"/><stop offset="0.092" stop-color="#4effb1"/><stop offset="0.101" stop-color="#71ff8e"/><stop offset="0.109" stop-color="#94ff6b"/><stop offset="0.118" stop-color="#beff41"/><stop offset="0.126" stop-color="#f9ff06"/><stop offset="0.134" stop-color="#ffcd00"/><stop offset="0.143" stop-color="#ff9b00"/><stop offset="0.151" stop-color="#ff6a00"/><stop offset="0.160" stop-color="#ff4300"/><stop offset="0.168" stop-color="#ff1800"/><stop offset="0.176" stop-color="#ed0000"/><stop offset="0.185" stop-color="#cf0000"/><stop offset="0.193" stop-color="#b80000"/><stop offset="0.202" stop-color="#a90000"/><stop offset="0.210" stop-color="#a00000"/><stop offset="0.218" stop-color="#9a0000"/><stop offset="0.227" stop-color="#980000"/><stop offset="0.235" stop-color="#9b0000"/><stop offset="0.244" stop-color="#a00000"/><stop offset="0.252" stop-color="#a70000"/><stop offset="0.261" stop-color="#af0000"/><stop offset="0.269" stop-color="#ba0000"/><stop offset="0.277" stop-color="#c60000"/><stop offset="0.286" stop-color="#d20000"/><stop offset="0.294" stop-color="#dd0000"/><stop offset="0.303" stop-color="#e60000"/><stop offset="0.311" stop-color="#f00000"/><stop offset="0.319" stop-color="#f80000"/><stop offset="0.328" stop-color="#ff0100"/><stop offset="0.336" stop-color="#ff0700"/><stop offset="0.345" stop-color="#ff0c00"/><stop offset="0.353" stop-color="#ff0f00"/><stop offset="0.361" stop-color="#ff1200"/><stop offset="0.370" stop-color="#ff1400"/><stop offset="0.378" stop-color="#ff1500"/><stop offset="0.387" stop-color="#ff1400"/><stop offset="0.395" stop-color="#ff1200"/><stop offset="0.403" stop-color="#ff1000"/><stop offset="0.412" stop-color="#ff0d00"/><stop offset="0.420" stop-color="#ff0a00"/><stop offset="0.429" stop-color="#ff0500"/><stop offset="0.437" stop-color="#fe0000"/><stop offset="0.445" stop-color="#f80000"/><stop offset="0.454" stop-color="#f10000"/><stop offset="0.462" stop-color="#ea0000"/><stop offset="0.471" stop-color="#e20000"/><stop offset="0.479" stop-color="#da0000"/><stop offset="0.487" stop-color="#d10000"/><stop offset="0.496" stop-color="#c90000"/><stop offset="0.504" stop-color="#c10000"/><stop offset="0.513" stop-color="#b80000"/><stop offset="0.521" stop-color="#b00000"/><stop offset="0.529" stop-color="#a70000"/><stop offset="0.538" stop-color="#9f0000"/><stop offset="0.546" stop-color="#970000"/><stop offset="0.555" stop-color="#910000"/><stop offset="0.563" stop-color="#8b0000"/><stop offset="0.571" stop-color="#860000"/><stop offset="0.580" stop-color="#830000"/><stop offset="0.588" stop-color="#810000"/><stop offset="0.597" stop-color="#800000"/><stop offset="0.605" stop-color="#810000"/><stop offset="0.613" stop-color="#850000"/><stop offset="0.622" stop-color="#8b0000"/><stop offset="0.630" stop-color="#910000"/><stop offset="0.639" stop-color="#990000"/><stop offset="0.647" stop-color="#a60000"/><stop offset="0.655" stop-color="#b40000"/><stop offset="0.664" stop-color="#c50000"/><stop offset="0.672" stop-color="#d80000"/><stop offset="0.681" stop-color="#ec0000"/><stop offset="0.689" stop-color="#ff0300"/><stop offset="0.697" stop-color="#ff1a00"/><stop offset="0.706" stop-color="#ff3500"/><stop offset="0.714" stop-color="#ff5100"/><stop offset="0.723" stop-color="#ff6f00"/><stop offset="0.731" stop-color="#ff8e00"/><stop offset="0.739" stop-color="#ffad00"/><stop offset="0.748" stop-color="#ffcd00"/><stop offset="0.756" stop-color="#ffed00"/><stop offset="0.765" stop-color="#f2ff0d"/><stop offset="0.773" stop-color="#d3ff2c"/><stop offset="0.782" stop-color="#b2ff4d"/><stop offset="0.790" stop-color="#8fff70"/><stop offset="0.798" stop-color="#6dff92"/><stop offset="0.807" stop-color="#4dffb2"/><stop offset="0.815" stop-color="#2effd1"/><stop offset="0.824" stop-color="#10ffef"/><stop offset="0.832" stop-color="#00f2ff"/><stop offset="0.840" stop-color="#00d7ff"/><stop offset="0.849" stop-color="#00bdff"/><stop offset="0.857" stop-color="#00a4ff"/><stop offset="0.866" stop-color="#008cff"/><stop offset="0.874" stop-color="#0078ff"/><stop offset="0.882" stop-color="#0065ff"/><stop offset="0.891" stop-color="#0054ff"/><stop offset="0.899" stop-color="#0045ff"/><stop offset="0.908" stop-color="#0036ff"/><stop offset="0.916" stop-color="#0027ff"/><stop offset="0.924" stop-color="#001aff"/><stop offset="0.933" stop-color="#000dff"/><stop offset="0.941" stop-color="#0001ff"/><stop offset="0.950" stop-color="#0000f4"/><stop offset="0.958" stop-color="#0000ea"/><stop offset="0.966" stop-color="#0000e0"/><stop offset="0.975" stop-color="#0000d7"/><stop offset="0.983" stop-color="#0000ce"/><stop offset="0.992" stop-color="#0000c6"/><stop offset="1.000" stop-color="#0000bf"/></linearGradient><linearGradient id="h8"><stop offset="0.000" stop-color="#0000cf"/><stop offset="0.008" stop-color="#0000e5"/><stop offset="0.017" stop-color="#0000fc"/><stop offset="0.025" stop-color="#0014ff"/><stop offset="0.034" stop-color="#0029ff"/><stop offset="0.042" stop-color="#003eff"/><stop offset="0.050" stop-color="#0055ff"/><stop offset="0.059" stop-color="#0072ff"/><stop offset="0.067" stop-color="#0096ff"/><stop offset="0.076" stop-color="#00cbff"/><stop offset="0.084" stop-color="#11ffee"/><stop offset="0.092" stop-color="#48ffb7"/><stop offset="0.101" stop-color="#6cff93"/><stop offset="0.109" stop-color="#91ff6e"/><stop offset="0.118" stop-color="#bbff44"/><stop offset="0.126" stop-color="#f4ff0b"/><stop offset="0.134" stop-color="#ffd300"/><stop offset="0.143" stop-color="#ff9e00"/><stop offset="0.151" stop-color="#ff6a00"/><stop offset="0.160" stop-color="#ff3e00"/><stop offset="0.168" stop-color="#ff1000"/><stop offset="0.176" stop-color="#ea0000"/><stop offset="0.185" stop-color="#cd0000"/><stop offset="0.193" stop-color="#b90000"/><stop offset="0.202" stop-color="#ae0000"/><stop offset="0.210" stop-color="#a60000"/><stop offset="0.218" stop-color="#a30000"/><stop offset="0.227" stop-color="#a70000"/><stop offset="0.235" stop-color="#ae0000"/><stop offset="0.244" stop-color="#b50000"/><stop offset="0.252" stop-color="#c00000"/><stop offset="0.261" stop-color="#cc0000"/><stop offset="0.269" stop-color="#d90000"/><stop offset="0.277" stop-color="#e60000"/><stop offset="0.286" stop-color="#f30000"/><stop offset="0.294" stop-color="#fe0000"/><stop offset="0.303" stop-color="#ff0a00"/><stop offset="0.311" stop-color="#ff1400"/><stop offset="0.319" stop-color="#ff1d00"/><stop offset="0.328" stop-color="#ff2400"/><stop offset="0.336" stop-color="#ff2800"/><stop offset="0.345" stop-color="#ff2c00"/><stop offset="0.353" stop-color="#ff3000"/><stop offset="0.361" stop-color="#ff3200"/><stop offset="0.370" stop-color="#ff3300"/><stop offset="0.378" stop-color="#ff3200"/><stop offset="0.387" stop-color="#ff2f00"/><stop offset="0.395" stop-color="#ff2c00"/><stop offset="0.403" stop-color="#ff2900"/><stop offset="0.412" stop-color="#ff2500"/><stop offset="0.420" stop-color="#ff1f00"/><stop offset="0.429" stop-color="#ff1800"/><stop offset="0.437" stop-color="#ff1000"/><stop offset="0.445" stop-color="#ff0800"/><stop offset="0.454" stop-color="#ff0000"/><stop offset="0.462" stop-color="#f60000"/><stop offset="0.471" stop-color="#ed0000"/><stop offset="0.479" stop-color="#e30000"/><stop offset="0.487" stop-color="#da0000"/><stop offset="0.496" stop-color="#d00000"/><stop offset="0.504" stop-color="#c70000"/><stop offset="0.513" stop-color="#be0000"/><stop offset="0.521" stop-color="#b40000"/><stop offset="0.529" stop-color="#aa0000"/><stop offset="0.538" stop-color="#a00000"/><stop offset="0.546" stop-color="#980000"/><stop offset="0.555" stop-color="#900000"/><stop offset="0.563" stop-color="#8a0000"/><stop offset="0.571" stop-color="#860000"/><stop offset="0.580" stop-color="#820000"/><stop offset="0.588" stop-color="#800000"/><stop offset="0.597" stop-color="#810000"/><stop offset="0.605" stop-color="#850000"/><stop offset="0.613" stop-color="#8b0000"/><stop offset="0.622" stop-color="#920000"/><stop offset="0.630" stop-color="#9b0000"/><stop offset="0.639" stop-color="#a80000"/><stop offset="0.647" stop-color="#b90000"/><stop offset="0.655" stop-color="#cb0000"/><stop offset="0.664" stop-color="#df0000"/><stop offset="0.672" stop-color="#f40000"/><stop offset="0.681" stop-color="#ff0c00"/><stop offset="0.689" stop-color="#ff2400"/><stop offset="0.697" stop-color="#ff3f00"/><stop offset="0.706" stop-color="#ff5c00"/><stop offset="0.714" stop-color="#ff7b00"/><stop offset="0.723" stop-color="#ff9a00"/><stop offset="0.731" stop-color="#ffbb00"/><stop offset="0.739" stop-color="#ffda00"/><stop offset="0.748" stop-color="#fff800"/><stop offset="0.756" stop-color="#e7ff18"/><stop offset="0.765" stop-color="#c9ff36"/><stop offset="0.773" stop-color="#a9ff56"/><stop offset="0.782" stop-color="#89ff76"/><stop offset="0.790" stop-color="#68ff97"/><stop offset="0.798" stop-color="#4affb5"/><stop offset="0.807" stop-color="#2cffd3"/><stop offset="0.815" stop-color="#0ffff0"/><stop offset="0.824" stop-color="#00f3ff"/><stop offset="0.832" stop-color="#00d8ff"/><stop offset="0.840" stop-color="#00bfff"/><stop offset="0.849" stop-color="#00a7ff"/><stop offset="0.857" stop-color="#0090ff"/><stop offset="0.866" stop-color="#007bff"/><stop offset="0.874" stop-color="#0069ff"/><stop offset="0.882" stop-color="#0059ff"/><stop offset="0.891" stop-color="#0049ff"/><stop offset="0.899" stop-color="#003bff"/><stop offset="0.908" stop-color="#002dff"/><stop offset="0.916" stop-color="#0020ff"/><stop offset="0.924" stop-color="#0013ff"/><stop offset="0.933" stop-color="#0007ff"/><stop offset="0.941" stop-color="#0000fb"/><stop offset="0.950" stop-color="#0000f1"/><stop offset="0.958" stop-color="#0000e7"/><stop offset="0.966" stop-color="#0000de"/><stop offset="0.975" stop-color="#0000d5"/><stop offset="0.983" stop-color="#0000cd"/><stop offset="0.992" stop-color="#0000c5"/><stop offset="1.000" stop-color="#0000bf"/></linearGradient><linearGradient id="h9"><stop offset="0.000" stop-color="#0000c9"/><stop offset="0.008" stop-color="#0000e0"/><stop offset="0.017" stop-color="#0000f6"/><stop offset="0.025" stop-color="#000dff"/><stop offset="0.034" stop-color="#0023ff"/><stop offset="0.042" stop-color="#0037ff"/><stop offset="0.050" stop-color="#004dff"/><stop offset="0.059" stop-color="#0068ff"/><stop offset="0.067" stop-color="#008bff"/><stop offset="0.076" stop-color="#00bcff"/><stop offset="0.084" stop-color="#05fffa"/><stop offset="0.092" stop-color="#43ffbc"/><stop offset="0.101" stop-color="#68ff97"/><stop offset="0.109" stop-color="#8eff71"/><stop offset="0.118" stop-color="#b8ff47"/><stop offset="0.126" stop-color="#eeff11"/><stop offset="0.134" stop-color="#ffd900"/><stop offset="0.143" stop-color="#ff9f00"/><stop offset="0.151" stop-color="#ff6700"/><stop offset="0.160" stop-color="#ff3600"/><stop offset="0.168" stop-color="#ff0a00"/><stop offset="0.176" stop-color="#e60000"/><stop offset="0.185" stop-color="#cb0000"/><stop offset="0.193" stop-color="#bd0000"/><stop offset="0.202" stop-color="#b30000"/><stop offset="0.210" stop-color="#af0000"/><stop offset="0.218" stop-color="#b30000"/><stop offset="0.227" stop-color="#bb0000"/><stop offset="0.235" stop-color="#c40000"/><stop offset="0.244" stop-color="#d00000"/><stop offset="0.252" stop-color="#dd0000"/><stop offset="0.261" stop-color="#ec0000"/><stop offset="0.269" stop-color="#fb0000"/><stop offset="0.277" stop-color="#ff0a00"/><stop offset="0.286" stop-color="#ff1700"/><stop offset="0.294" stop-color="#ff2300"/><stop offset="0.303" stop-color="#ff2f00"/><stop offset="0.311" stop-color="#ff3900"/><stop offset="0.319" stop-color="#ff4000"/><stop offset="0.328" stop-color="#ff4500"/><stop offset="0.336" stop-color="#ff4a00"/><stop offset="0.345" stop-color="#ff4d00"/><stop offset="0.353" stop-color="#ff5000"/><stop offset="0.361" stop-color="#ff5000"/><stop offset="0.370" stop-color="#ff4f00"/><stop offset="0.378" stop-color="#ff4d00"/><stop offset="0.387" stop-color="#ff4900"/><stop offset="0.395" stop-color="#ff4500"/><stop offset="0.403" stop-color="#ff4000"/><stop offset="0.412" stop-color="#ff3900"/><stop offset="0.420" stop-color="#ff3100"/><stop offset="0.429" stop-color="#ff2800"/><stop offset="0.437" stop-color="#ff1f00"/><stop offset="0.445" stop-color="#ff1500"/><stop offset="0.454" stop-color="#ff0b00"/><stop offset="0.462" stop-color="#ff0100"/><stop offset="0.471" stop-color="#f50000"/><stop offset="0.479" stop-color="#eb0000"/><stop offset="0.487" stop-color="#e00000"/><stop offset="0.496" stop-color="#d60000"/><stop offset="0.504" stop-color="#cc0000"/><stop offset="0.513" stop-color="#c10000"/><stop offset="0.521" stop-color="#b50000"/><stop offset="0.529" stop-color="#aa0000"/><stop offset="0.538" stop-color="#a00000"/><stop offset="0.546" stop-color="#970000"/><stop offset="0.555" stop-color="#8f0000"/><stop offset="0.563" stop-color="#890000"/><stop offset="0.571" stop-color="#840000"/><stop offset="0.580" stop-color="#810000"/><stop offset="0.588" stop-color="#800000"/><stop offset="0.597" stop-color="#840000"/><stop offset="0.605" stop-color="#8b0000"/><stop offset="0.613" stop-color="#930000"/><stop offset="0.622" stop-color="#9c0000"/><stop offset="0.630" stop-color="#aa0000"/><stop offset="0.639" stop-color="#bc0000"/><stop offset="0.647" stop-color="#d00000"/><stop offset="0.655" stop-color="#e50000"/><stop offset="0.664" stop-color="#fb0000"/><stop offset="0.672" stop-color="#ff1300"/><stop offset="0.681" stop-color="#ff2c00"/><stop offset="0.689" stop-color="#ff4800"/><stop offset="0.697" stop-color="#ff6600"/><stop offset="0.706" stop-color="#ff8400"/><stop offset="0.714" stop-color="#ffa500"/><stop offset="0.723" stop-color="#ffc500"/><stop offset="0.731" stop-color="#ffe400"/><stop offset="0.739" stop-color="#fdff02"/><stop offset="0.748" stop-color="#e0ff1f"/><stop offset="0.756" stop-color="#c2ff3d"/><stop offset="0.765" stop-color="#a4ff5b"/><stop offset="0.773" stop-color="#86ff79"/><stop offset="0.782" stop-color="#67ff98"/><stop offset="0.790" stop-color="#4bffb4"/><stop offset="0.798" stop-color="#2dffd2"/><stop offset="0.807" stop-color="#11ffee"/><stop offset="0.815" stop-color="#00f6ff"/><stop offset="0.824" stop-color="#00dcff"/><stop offset="0.832" stop-color="#00c4ff"/><stop offset="0.840" stop-color="#00acff"/><stop offset="0.849" stop-color="#0096ff"/><stop offset="0.857" stop-color="#0081ff"/><stop offset="0.866" stop-color="#006eff"/><stop offset="0.874" stop-color="#005eff"/><stop offset="0.882" stop-color="#004fff"/><stop offset="0.891" stop-color="#0041ff"/><stop offset="0.899" stop-color="#0033ff"/><stop offset="0.908" stop-color="#0026ff"/><stop offset="0.916" stop-color="#001aff"/><stop offset="0.924" stop-color="#000eff"/><stop offset="0.933" stop-color="#0003ff"/><stop offset="0.941" stop-color="#0000f7"/><stop offset="0.950" stop-color="#0000ee"/><stop offset="0.958" stop-color="#0000e5"/><stop offset="0.966" stop-color="#0000dc"/><stop offset="0.975" stop-color="#0000d4"/><stop offset="0.983" stop-color="#0000cc"/><stop offset="0.992" stop-color="#0000c5"/><stop offset="1.000" stop-color="#0000be"/></linearGradient><linearGradient id="h10"><stop offset="0.000" stop-color="#0000bf"/><stop offset="0.008" stop-color="#0000d5"/><stop offset="0.017" stop-color="#0000eb"/><stop offset="0.025" stop-color="#0002ff"/><stop offset="0.034" stop-color="#0017ff"/><stop offset="0.042" stop-color="#002bff"/><stop offset="0.050" stop-color="#0040ff"/><stop offset="0.059" stop-color="#005aff"/><stop offset="0.067" stop-color="#007aff"/><stop offset="0.076" stop-color="#00a7ff"/><stop offset="0.084" stop-color="#00efff"/><stop offset="0.092" stop-color="#36ffc9"/><stop offset="0.101" stop-color="#61ff9e"/><stop offset="0.109" stop-color="#88ff77"/><stop offset="0.118" stop-color="#b4ff4b"/><stop offset="0.126" stop-color="#e8ff17"/><stop offset="0.134" stop-color="#ffdc00"/><stop offset="0.143" stop-color="#ff9b00"/><stop offset="0.151" stop-color="#ff5e00"/><stop offset="0.160" stop-color="#ff2c00"/><stop offset="0.168" stop-color="#ff0300"/><stop offset="0.176" stop-color="#e00000"/><stop offset="0.185" stop-color="#cd0000"/><stop offset="0.193" stop-color="#c20000"/><stop offset="0.202" stop-color="#c10000"/><stop offset="0.210" stop-color="#cd0000"/><stop offset="0.218" stop-color="#dc0000"/><stop offset="0.227" stop-color="#eb0000"/><stop offset="0.235" stop-color="#fa0000"/><stop offset="0.244" stop-color="#ff0c00"/><stop offset="0.252" stop-color="#ff1e00"/><stop offset="0.261" stop-color="#ff3100"/><stop offset="0.269" stop-color="#ff4200"/><stop offset="0.277" stop-color="#ff5200"/><stop offset="0.286" stop-color="#ff6000"/><stop offset="0.294" stop-color="#ff6e00"/><stop offset="0.303" stop-color="#ff7900"/><stop offset="0.311" stop-color="#ff8000"/><stop offset="0.319" stop-color="#ff8600"/><stop offset="0.328" stop-color="#ff8b00"/><stop offset="0.336" stop-color="#ff8f00"/><stop offset="0.345" stop-color="#ff9100"/><stop offset="0.353" stop-color="#ff9100"/><stop offset="0.361" stop-color="#ff8f00"/><stop offset="0.370" stop-color="#ff8c00"/><stop offset="0.378" stop-color="#ff8800"/><stop offset="0.387" stop-color="#ff8200"/><stop offset="0.395" stop-color="#ff7d00"/><stop offset="0.403" stop-color="#ff7500"/><stop offset="0.412" stop-color="#ff6b00"/><stop offset="0.420" stop-color="#ff6000"/><stop offset="0.429" stop-color="#ff5500"/><stop offset="0.437" stop-color="#ff4a00"/><stop offset="0.445" stop-color="#ff3f00"/><stop offset="0.454" stop-color="#ff3200"/><stop offset="0.462" stop-color="#ff2500"/><stop offset="0.471" stop-color="#ff1800"/><stop offset="0.479" stop-color="#ff0b00"/><stop offset="0.487" stop-color="#fd0000"/><stop offset="0.496" stop-color="#f00000"/><stop offset="0.504" stop-color="#e20000"/><stop offset="0.513" stop-color="#d20000"/><stop offset="0.521" stop-color="#c20000"/><stop offset="0.529" stop-color="#b30000"/><stop offset="0.538" stop-color="#a60000"/><stop offset="0.546" stop-color="#990000"/><stop offset="0.555" stop-color="#8f0000"/><stop offset="0.563" stop-color="#870000"/><stop offset="0.571" stop-color="#820000"/><stop offset="0.580" stop-color="#800000"/><stop offset="0.588" stop-color="#840000"/><stop offset="0.597" stop-color="#8b0000"/><stop offset="0.605" stop-color="#950000"/><stop offset="0.613" stop-color="#a00000"/><stop offset="0.622" stop-color="#af0000"/><stop offset="0.630" stop-color="#c30000"/><stop offset="0.639" stop-color="#d90000"/><stop offset="0.647" stop-color="#ef0000"/><stop offset="0.655" stop-color="#ff0800"/><stop offset="0.664" stop-color="#ff2200"/><stop offset="0.672" stop-color="#ff3d00"/><stop offset="0.681" stop-color="#ff5b00"/><stop offset="0.689" stop-color="#ff7b00"/><stop offset="0.697" stop-color="#ff9d00"/><stop offset="0.706" stop-color="#ffc000"/><stop offset="0.714" stop-color="#ffe100"/><stop offset="0.723" stop-color="#fffe00"/><stop offset="0.731" stop-color="#e4ff1b"/><stop offset="0.739" stop-color="#c8ff37"/><stop offset="0.748" stop-color="#acff53"/><stop offset="0.756" stop-color="#8fff70"/><stop offset="0.765" stop-color="#73ff8c"/><stop offset="0.773" stop-color="#55ffaa"/><stop offset="0.782" stop-color="#36ffc9"/><stop offset="0.790" stop-color="#18ffe7"/><stop offset="0.798" stop-color="#00fcff"/><stop offset="0.807" stop-color="#00e3ff"/><stop offset="0.815" stop-color="#00cbff"/><stop offset="0.824" stop-color="#00b4ff"/><stop offset="0.832" stop-color="#009eff"/><stop offset="0.840" stop-color="#0089ff"/><stop offset="0.849" stop-color="#0075ff"/><stop offset="0.857" stop-color="#0064ff"/><stop offset="0.866" stop-color="#0055ff"/><stop offset="0.874" stop-color="#0047ff"/><stop offset="0.882" stop-color="#003aff"/><stop offset="0.891" stop-color="#002dff"/><stop offset="0.899" stop-color="#0022ff"/><stop offset="0.908" stop-color="#0016ff"/><stop offset="0.916" stop-color="#000cff"/><stop offset="0.924" stop-color="#0001ff"/><stop offset="0.933" stop-color="#0000f7"/><stop offset="0.941" stop-color="#0000ed"/><stop offset="0.950" stop-color="#0000e5"/><stop offset="0.958" stop-color="#0000dd"/><stop offset="0.966" stop-color="#0000d5"/><stop offset="0.975" stop-color="#0000ce"/><stop offset="0.983" stop-color="#0000c7"/><stop offset="0.992" stop-color="#0000c1"/><stop offset="1.000" stop-color="#0000bb"/></linearGradient><linearGradient id="h11"><stop offset="0.000" stop-color="#0000b3"/><stop offset="0.008" stop-color="#0000c6"/><stop offset="0.017" stop-color="#0000dc"/><stop offset="0.025" stop-color="#0000f1"/><stop offset="0.034" stop-color="#0008ff"/><stop offset="0.042" stop-color="#001dff"/><stop offset="0.050" stop-color="#0033ff"/><stop offset="0.059" stop-color="#004cff"/><stop offset="0.067" stop-color="#006bff"/><stop offset="0.076" stop-color="#0094ff"/><stop offset="0.084" stop-color="#00d7ff"/><stop offset="0.092" stop-color="#22ffdd"/><stop offset="0.101" stop-color="#57ffa8"/><stop offset="0.109" stop-color="#83ff7c"/><stop offset="0.118" stop-color="#b1ff4e"/><stop offset="0.126" stop-color="#e8ff17"/><stop offset="0.134" stop-color="#ffda00"/><stop offset="0.143" stop-color="#ff9600"/><stop offset="0.151" stop-color="#ff5b00"/><stop offset="0.160" stop-color="#ff2800"/><stop offset="0.168" stop-color="#fc0000"/><stop offset="0.176" stop-color="#dd0000"/><stop offset="0.185" stop-color="#d10000"/><stop offset="0.193" stop-color="#d10000"/><stop offset="0.202" stop-color="#e90000"/><stop offset="0.210" stop-color="#ff0900"/><stop offset="0.218" stop-color="#ff1f00"/><stop offset="0.227" stop-color="#ff3200"/><stop offset="0.235" stop-color="#ff4700"/><stop offset="0.244" stop-color="#ff6000"/><stop offset="0.252" stop-color="#ff7800"/><stop offset="0.261" stop-color="#ff8f00"/><stop offset="0.269" stop-color="#ffa200"/><stop offset="0.277" stop-color="#ffb400"/><stop offset="0.286" stop-color="#ffc500"/><stop offset="0.294" stop-color="#ffd300"/><stop offset="0.303" stop-color="#ffdc00"/><stop offset="0.311" stop-color="#ffe300"/><stop offset="0.319" stop-color="#ffe900"/><stop offset="0.328" stop-color="#ffed00"/><stop offset="0.336" stop-color="#fff000"/><stop offset="0.345" stop-color="#fff100"/><stop offset="0.353" stop-color="#fff000"/><stop offset="0.361" stop-color="#ffed00"/><stop offset="0.370" stop-color="#ffe900"/><stop offset="0.378" stop-color="#ffe400"/><stop offset="0.387" stop-color="#ffde00"/><stop offset="0.395" stop-color="#ffd700"/><stop offset="0.403" stop-color="#ffcd00"/><stop offset="0.412" stop-color="#ffc300"/><stop offset="0.420" stop-color="#ffb700"/><stop offset="0.429" stop-color="#ffab00"/><stop offset="0.437" stop-color="#ff9f00"/><stop offset="0.445" stop-color="#ff9100"/><stop offset="0.454" stop-color="#ff8200"/><stop offset="0.462" stop-color="#ff7100"/><stop offset="0.471" stop-color="#ff5f00"/><stop offset="0.479" stop-color="#ff4c00"/><stop offset="0.487" stop-color="#ff3b00"/><stop offset="0.496" stop-color="#ff2800"/><stop offset="0.504" stop-color="#ff1300"/><stop offset="0.513" stop-color="#fb0000"/><stop offset="0.521" stop-color="#e20000"/><stop offset="0.529" stop-color="#cc0000"/><stop offset="0.538" stop-color="#b80000"/><stop offset="0.546" stop-color="#a30000"/><stop offset="0.555" stop-color="#940000"/><stop offset="0.563" stop-color="#880000"/><stop offset="0.571" stop-color="#810000"/><stop offset="0.580" stop-color="#810000"/><stop offset="0.588" stop-color="#870000"/><stop offset="0.597" stop-color="#900000"/><stop offset="0.605" stop-color="#9c0000"/><stop offset="0.613" stop-color="#ac0000"/><stop offset="0.622" stop-color="#c10000"/><stop offset="0.630" stop-color="#d80000"/><stop offset="0.639" stop-color="#f10000"/><stop offset="0.647" stop-color="#ff0e00"/><stop offset="0.655" stop-color="#ff2c00"/><stop offset="0.664" stop-color="#ff4d00"/><stop offset="0.672" stop-color="#ff7100"/><stop offset="0.681" stop-color="#ff9900"/><stop offset="0.689" stop-color="#ffc500"/><stop offset="0.697" stop-color="#ffe900"/><stop offset="0.706" stop-color="#f5ff0a"/><stop offset="0.714" stop-color="#d6ff29"/><stop offset="0.723" stop-color="#b8ff47"/><stop offset="0.731" stop-color="#9aff65"/><stop offset="0.739" stop-color="#7bff84"/><stop offset="0.748" stop-color="#5affa5"/><stop offset="0.756" stop-color="#37ffc8"/><stop offset="0.765" stop-color="#14ffeb"/><stop offset="0.773" stop-color="#00f6ff"/><stop offset="0.782" stop-color="#00dcff"/><stop offset="0.790" stop-color="#00c4ff"/><stop offset="0.798" stop-color="#00aeff"/><stop offset="0.807" stop-color="#0098ff"/><stop offset="0.815" stop-color="#0084ff"/><stop offset="0.824" stop-color="#0071ff"/><stop offset="0.832" stop-color="#0060ff"/><stop offset="0.840" stop-color="#0050ff"/><stop offset="0.849" stop-color="#0043ff"/><stop offset="0.857" stop-color="#0036ff"/><stop offset="0.866" stop-color="#002aff"/><stop offset="0.874" stop-color="#001fff"/><stop offset="0.882" stop-color="#0015ff"/><stop offset="0.891" stop-color="#000cff"/><stop offset="0.899" stop-color="#0003ff"/><stop offset="0.908" stop-color="#0000f9"/><stop offset="0.916" stop-color="#0000f1"/><stop offset="0.924" stop-color="#0000e9"/><stop offset="0.933" stop-color="#0000e1"/><stop offset="0.941" stop-color="#0000db"/><stop offset="0.950" stop-color="#0000d4"/><stop offset="0.958" stop-color="#0000ce"/><stop offset="0.966" stop-color="#0000c8"/><stop offset="0.975" stop-color="#0000c2"/><stop offset="0.983" stop-color="#0000bd"/><stop offset="0.992" stop-color="#0000b8"/><stop offset="1.000" stop-color="#0000b3"/></linearGradient><linearGradient id="h12"><stop offset="0.000" stop-color="#0000a4"/><stop offset="0.008" stop-color="#0000b5"/><stop offset="0.017" stop-color="#0000ca"/><stop offset="0.025" stop-color="#0000e0"/><stop offset="0.034" stop-color="#0000f6"/><stop offset="0.042" stop-color="#000cff"/><stop offset="0.050" stop-color="#0023ff"/><stop offset="0.059" stop-color="#003dff"/><stop offset="0.067" stop-color="#005aff"/><stop offset="0.076" stop-color="#0080ff"/><stop offset="0.084" stop-color="#00bdff"/><stop offset="0.092" stop-color="#09fff6"/><stop offset="0.101" stop-color="#48ffb7"/><stop offset="0.109" stop-color="#7bff84"/><stop offset="0.118" stop-color="#aeff51"/><stop offset="0.126" stop-color="#e8ff17"/><stop offset="0.134" stop-color="#ffd700"/><stop offset="0.143" stop-color="#ff9100"/><stop offset="0.151" stop-color="#ff5300"/><stop offset="0.160" stop-color="#ff1d00"/><stop offset="0.168" stop-color="#f00000"/><stop offset="0.176" stop-color="#e20000"/><stop offset="0.185" stop-color="#e60000"/><stop offset="0.193" stop-color="#ff1000"/><stop offset="0.202" stop-color="#ff3f00"/><stop offset="0.210" stop-color="#ff5d00"/><stop offset="0.218" stop-color="#ff7400"/><stop offset="0.227" stop-color="#ff8f00"/><stop offset="0.235" stop-color="#ffaf00"/><stop offset="0.244" stop-color="#ffce00"/><stop offset="0.252" stop-color="#ffe900"/><stop offset="0.261" stop-color="#fdff02"/><stop offset="0.269" stop-color="#e7ff18"/><stop offset="0.277" stop-color="#d3ff2c"/><stop offset="0.286" stop-color="#c3ff3c"/><stop offset="0.294" stop-color="#b7ff48"/><stop offset="0.303" stop-color="#aeff51"/><stop offset="0.311" stop-color="#a8ff57"/><stop offset="0.319" stop-color="#a3ff5c"/><stop offset="0.328" stop-color="#a0ff5f"/><stop offset="0.336" stop-color="#9eff61"/><stop offset="0.345" stop-color="#9eff61"/><stop offset="0.353" stop-color="#a1ff5e"/><stop offset="0.361" stop-color="#a5ff5a"/><stop offset="0.370" stop-color="#a9ff56"/><stop offset="0.378" stop-color="#afff50"/><stop offset="0.387" stop-color="#b7ff48"/><stop offset="0.395" stop-color="#c0ff3f"/><stop offset="0.403" stop-color="#cbff34"/><stop offset="0.412" stop-color="#d6ff29"/><stop offset="0.420" stop-color="#e3ff1c"/><stop offset="0.429" stop-color="#f1ff0e"/><stop offset="0.437" stop-color="#ffff00"/><stop offset="0.445" stop-color="#ffee00"/><stop offset="0.454" stop-color="#ffdb00"/><stop offset="0.462" stop-color="#ffc300"/><stop offset="0.471" stop-color="#ffab00"/><stop offset="0.479" stop-color="#ff9300"/><stop offset="0.487" stop-color="#ff7d00"/><stop offset="0.496" stop-color="#ff6300"/><stop offset="0.504" stop-color="#ff4400"/><stop offset="0.513" stop-color="#ff2200"/><stop offset="0.521" stop-color="#ff0100"/><stop offset="0.529" stop-color="#e40000"/><stop offset="0.538" stop-color="#c50000"/><stop offset="0.546" stop-color="#a80000"/><stop offset="0.555" stop-color="#960000"/><stop offset="0.563" stop-color="#880000"/><stop offset="0.571" stop-color="#800000"/><stop offset="0.580" stop-color="#830000"/><stop offset="0.588" stop-color="#8c0000"/><stop offset="0.597" stop-color="#9a0000"/><stop offset="0.605" stop-color="#ab0000"/><stop offset="0.613" stop-color="#c10000"/><stop offset="0.622" stop-color="#dc0000"/><stop offset="0.630" stop-color="#fb0000"/><stop offset="0.639" stop-color="#ff1e00"/><stop offset="0.647" stop-color="#ff4400"/><stop offset="0.655" stop-color="#ff6f00"/><stop offset="0.664" stop-color="#ffa300"/><stop offset="0.672" stop-color="#ffd700"/><stop offset="0.681" stop-color="#ffff00"/><stop offset="0.689" stop-color="#dcff23"/><stop offset="0.697" stop-color="#baff45"/><stop offset="0.706" stop-color="#98ff67"/><stop offset="0.714" stop-color="#77ff88"/><stop offset="0.723" stop-color="#51ffae"/><stop offset="0.731" stop-color="#29ffd6"/><stop offset="0.739" stop-color="#03fffc"/><stop offset="0.748" stop-color="#00e2ff"/><stop offset="0.756" stop-color="#00c8ff"/><stop offset="0.765" stop-color="#00b1ff"/><stop offset="0.773" stop-color="#009aff"/><stop offset="0.782" stop-color="#0085ff"/><stop offset="0.790" stop-color="#0072ff"/><stop offset="0.798" stop-color="#0061ff"/><stop offset="0.807" stop-color="#0051ff"/><stop offset="0.815" stop-color="#0042ff"/><stop offset="0.824" stop-color="#0034ff"/><stop offset="0.832" stop-color="#0028ff"/><stop offset="0.840" stop-color="#001eff"/><stop offset="0.849" stop-color="#0013ff"/><stop offset="0.857" stop-color="#000aff"/><stop offset="0.866" stop-color="#0001ff"/><stop offset="0.874" stop-color="#0000f8"/><stop offset="0.882" stop-color="#0000f1"/><stop offset="0.891" stop-color="#0000ea"/><stop offset="0.899" stop-color="#0000e3"/><stop offset="0.908" stop-color="#0000dd"/><stop offset="0.916" stop-color="#0000d7"/><stop offset="0.924" stop-color="#0000d1"/><stop offset="0.933" stop-color="#0000cc"/><stop offset="0.941" stop-color="#0000c7"/><stop offset="0.950" stop-color="#0000c2"/><stop offset="0.958" stop-color="#0000be"/><stop offset="0.966" stop-color="#0000b9"/><stop offset="0.975" stop-color="#0000b5"/><stop offset="0.983" stop-color="#0000b1"/><stop offset="0.992" stop-color="#0000ae"/><stop offset="1.000" stop-color="#0000aa"/></linearGradient><linearGradient id="h13"><stop offset="0.000" stop-color="#000095"/><stop offset="0.008" stop-color="#0000a2"/><stop offset="0.017" stop-color="#0000b7"/><stop offset="0.025" stop-color="#0000cc"/><stop offset="0.034" stop-color="#0000e3"/><stop offset="0.042" stop-color="#0000f9"/><stop offset="0.050" stop-color="#0012ff"/><stop offset="0.059" stop-color="#002cff"/><stop offset="0.067" stop-color="#0048ff"/><stop offset="0.076" stop-color="#006cff"/><stop offset="0.084" stop-color="#00a2ff"/><stop offset="0.092" stop-color="#00ebff"/><stop offset="0.101" stop-color="#34ffcb"/><stop offset="0.109" stop-color="#71ff8e"/><stop offset="0.118" stop-color="#abff54"/><stop offset="0.126" stop-color="#e9ff16"/><stop offset="0.134" stop-color="#ffd000"/><stop offset="0.143" stop-color="#ff8600"/><stop offset="0.151" stop-color="#ff4200"/><stop offset="0.160" stop-color="#ff0400"/><stop offset="0.168" stop-color="#f30000"/><stop offset="0.176" stop-color="#ff0500"/><stop offset="0.185" stop-color="#ff4400"/><stop offset="0.193" stop-color="#ff8000"/><stop offset="0.202" stop-color="#ffa400"/><stop offset="0.210" stop-color="#ffbf00"/><stop offset="0.218" stop-color="#ffe000"/><stop offset="0.227" stop-color="#f6ff09"/><stop offset="0.235" stop-color="#d1ff2e"/><stop offset="0.244" stop-color="#b1ff4e"/><stop offset="0.252" stop-color="#94ff6b"/><stop offset="0.261" stop-color="#7aff85"/><stop offset="0.269" stop-color="#63ff9c"/><stop offset="0.277" stop-color="#50ffaf"/><stop offset="0.286" stop-color="#42ffbd"/><stop offset="0.294" stop-color="#38ffc7"/><stop offset="0.303" stop-color="#30ffcf"/><stop offset="0.311" stop-color="#2bffd4"/><stop offset="0.319" stop-color="#27ffd8"/><stop offset="0.328" stop-color="#25ffda"/><stop offset="0.336" stop-color="#24ffdb"/><stop offset="0.345" stop-color="#27ffd8"/><stop offset="0.353" stop-color="#2affd5"/><stop offset="0.361" stop-color="#2fffd0"/><stop offset="0.370" stop-color="#35ffca"/><stop offset="0.378" stop-color="#3dffc2"/><stop offset="0.387" stop-color="#46ffb9"/><stop offset="0.395" stop-color="#51ffae"/><stop offset="0.403" stop-color="#5dffa2"/><stop offset="0.412" stop-color="#6aff95"/><stop offset="0.420" stop-color="#78ff87"/><stop offset="0.429" stop-color="#88ff77"/><stop offset="0.437" stop-color="#9aff65"/><stop offset="0.445" stop-color="#afff50"/><stop offset="0.454" stop-color="#c9ff36"/><stop offset="0.462" stop-color="#e8ff17"/><stop offset="0.471" stop-color="#fff800"/><stop offset="0.479" stop-color="#ffdc00"/><stop offset="0.487" stop-color="#ffbe00"/><stop offset="0.496" stop-color="#ff9a00"/><stop offset="0.504" stop-color="#ff7100"/><stop offset="0.513" stop-color="#ff4300"/><stop offset="0.521" stop-color="#ff1c00"/><stop offset="0.529" stop-color="#f60000"/><stop offset="0.538" stop-color="#cc0000"/><stop offset="0.546" stop-color="#ab0000"/><stop offset="0.555" stop-color="#950000"/><stop offset="0.563" stop-color="#850000"/><stop offset="0.571" stop-color="#800000"/><stop offset="0.580" stop-color="#870000"/><stop offset="0.588" stop-color="#970000"/><stop offset="0.597" stop-color="#ab0000"/><stop offset="0.605" stop-color="#c50000"/><stop offset="0.613" stop-color="#e80000"/><stop offset="0.622" stop-color="#ff1200"/><stop offset="0.630" stop-color="#ff3f00"/><stop offset="0.639" stop-color="#ff7700"/><stop offset="0.647" stop-color="#ffc000"/><stop offset="0.655" stop-color="#fff800"/><stop offset="0.664" stop-color="#dbff24"/><stop offset="0.672" stop-color="#b3ff4c"/><stop offset="0.681" stop-color="#8dff72"/><stop offset="0.689" stop-color="#65ff9a"/><stop offset="0.697" stop-color="#39ffc6"/><stop offset="0.706" stop-color="#0efff1"/><stop offset="0.714" stop-color="#00e4ff"/><stop offset="0.723" stop-color="#00c4ff"/><stop offset="0.731" stop-color="#00abff"/><stop offset="0.739" stop-color="#0095ff"/><stop offset="0.748" stop-color="#007fff"/><stop offset="0.756" stop-color="#006bff"/><stop offset="0.765" stop-color="#0058ff"/><stop offset="0.773" stop-color="#0048ff"/><stop offset="0.782" stop-color="#0039ff"/><stop offset="0.790" stop-color="#002bff"/><stop offset="0.798" stop-color="#001fff"/><stop offset="0.807" stop-color="#0014ff"/><stop offset="0.815" stop-color="#000aff"/><stop offset="0.824" stop-color="#0001ff"/><stop offset="0.832" stop-color="#0000f7"/><stop offset="0.840" stop-color="#0000ef"/><stop offset="0.849" stop-color="#0000e7"/><stop offset="0.857" stop-color="#0000e1"/><stop offset="0.866" stop-color="#0000db"/><stop offset="0.874" stop-color="#0000d5"/><stop offset="0.882" stop-color="#0000d0"/><stop offset="0.891" stop-color="#0000cc"/><stop offset="0.899" stop-color="#0000c7"/><stop offset="0.908" stop-color="#0000c3"/><stop offset="0.916" stop-color="#0000bf"/><stop offset="0.924" stop-color="#0000bb"/><stop offset="0.933" stop-color="#0000b8"/><stop offset="0.941" stop-color="#0000b4"/><stop offset="0.950" stop-color="#0000b1"/><stop offset="0.958" stop-color="#0000ae"/><stop offset="0.966" stop-color="#0000ab"/><stop offset="0.975" stop-color="#0000a8"/><stop offset="0.983" stop-color="#0000a5"/><stop offset="0.992" stop-color="#0000a3"/><stop offset="1.000" stop-color="#0000a0"/></linearGradient><linearGradient id="h14"><stop offset="0.000" stop-color="#000082"/><stop offset="0.008" stop-color="#00008d"/><stop offset="0.017" stop-color="#0000a1"/><stop offset="0.025" stop-color="#0000b6"/><stop offset="0.034" stop-color="#0000cc"/><stop offset="0.042" stop-color="#0000e4"/><stop offset="0.050" stop-color="#0000fd"/><stop offset="0.059" stop-color="#0018ff"/><stop offset="0.067" stop-color="#0033ff"/><stop offset="0.076" stop-color="#0054ff"/><stop offset="0.084" stop-color="#0085ff"/><stop offset="0.092" stop-color="#00c8ff"/><stop offset="0.101" stop-color="#18ffe7"/><stop offset="0.109" stop-color="#5fffa0"/><stop offset="0.118" stop-color="#a6ff59"/><stop offset="0.126" stop-color="#ecff13"/><stop offset="0.134" stop-color="#ffc300"/><stop offset="0.143" stop-color="#ff6900"/><stop offset="0.151" stop-color="#ff1200"/><stop offset="0.160" stop-color="#ff0900"/><stop offset="0.168" stop-color="#ff3d00"/><stop offset="0.176" stop-color="#ff9800"/><stop offset="0.185" stop-color="#ffd700"/><stop offset="0.193" stop-color="#fffe00"/><stop offset="0.202" stop-color="#e1ff1e"/><stop offset="0.210" stop-color="#b6ff49"/><stop offset="0.218" stop-color="#85ff7a"/><stop offset="0.227" stop-color="#5bffa4"/><stop offset="0.235" stop-color="#35ffca"/><stop offset="0.244" stop-color="#14ffeb"/><stop offset="0.252" stop-color="#00f6ff"/><stop offset="0.261" stop-color="#00dcff"/><stop offset="0.269" stop-color="#00c7ff"/><stop offset="0.277" stop-color="#00b7ff"/><stop offset="0.286" stop-color="#00abff"/><stop offset="0.294" stop-color="#00a3ff"/><stop offset="0.303" stop-color="#009dff"/><stop offset="0.311" stop-color="#0099ff"/><stop offset="0.319" stop-color="#0096ff"/><stop offset="0.328" stop-color="#0096ff"/><stop offset="0.336" stop-color="#0098ff"/><stop offset="0.345" stop-color="#009cff"/><stop offset="0.353" stop-color="#00a1ff"/><stop offset="0.361" stop-color="#00a6ff"/><stop offset="0.370" stop-color="#00afff"/><stop offset="0.378" stop-color="#00b9ff"/><stop offset="0.387" stop-color="#00c4ff"/><stop offset="0.395" stop-color="#00d0ff"/><stop offset="0.403" stop-color="#00ddff"/><stop offset="0.412" stop-color="#00ecff"/><stop offset="0.420" stop-color="#00fdff"/><stop offset="0.429" stop-color="#12ffed"/><stop offset="0.437" stop-color="#29ffd6"/><stop offset="0.445" stop-color="#46ffb9"/><stop offset="0.454" stop-color="#6aff95"/><stop offset="0.462" stop-color="#90ff6f"/><stop offset="0.471" stop-color="#b3ff4c"/><stop offset="0.479" stop-color="#d6ff29"/><stop offset="0.487" stop-color="#feff01"/><stop offset="0.496" stop-color="#ffcf00"/><stop offset="0.504" stop-color="#ff9800"/><stop offset="0.513" stop-color="#ff6100"/><stop offset="0.521" stop-color="#ff3200"/><stop offset="0.529" stop-color="#ff0000"/><stop offset="0.538" stop-color="#cb0000"/><stop offset="0.546" stop-color="#aa0000"/><stop offset="0.555" stop-color="#910000"/><stop offset="0.563" stop-color="#810000"/><stop offset="0.571" stop-color="#820000"/><stop offset="0.580" stop-color="#920000"/><stop offset="0.588" stop-color="#aa0000"/><stop offset="0.597" stop-color="#c80000"/><stop offset="0.605" stop-color="#f50000"/><stop offset="0.613" stop-color="#ff2c00"/><stop offset="0.622" stop-color="#ff6f00"/><stop offset="0.630" stop-color="#ffd000"/><stop offset="0.639" stop-color="#efff10"/><stop offset="0.647" stop-color="#beff41"/><stop offset="0.655" stop-color="#92ff6d"/><stop offset="0.664" stop-color="#66ff99"/><stop offset="0.672" stop-color="#35ffca"/><stop offset="0.681" stop-color="#05fffa"/><stop offset="0.689" stop-color="#00d5ff"/><stop offset="0.697" stop-color="#00afff"/><stop offset="0.706" stop-color="#0094ff"/><stop offset="0.714" stop-color="#007dff"/><stop offset="0.723" stop-color="#0067ff"/><stop offset="0.731" stop-color="#0052ff"/><stop offset="0.739" stop-color="#003fff"/><stop offset="0.748" stop-color="#002eff"/><stop offset="0.756" stop-color="#001fff"/><stop offset="0.765" stop-color="#0012ff"/><stop offset="0.773" stop-color="#0006ff"/><stop offset="0.782" stop-color="#0000fa"/><stop offset="0.790" stop-color="#0000f1"/><stop offset="0.798" stop-color="#0000e8"/><stop offset="0.807" stop-color="#0000e0"/><stop offset="0.815" stop-color="#0000d8"/><stop offset="0.824" stop-color="#0000d1"/><stop offset="0.832" stop-color="#0000cb"/><stop offset="0.840" stop-color="#0000c5"/><stop offset="0.849" stop-color="#0000c0"/><stop offset="0.857" stop-color="#0000bc"/><stop offset="0.866" stop-color="#0000b8"/><stop offset="0.874" stop-color="#0000b5"/><stop offset="0.882" stop-color="#0000b2"/><stop offset="0.891" stop-color="#0000af"/><stop offset="0.899" stop-color="#0000ac"/><stop offset="0.908" stop-color="#0000aa"/><stop offset="0.916" stop-color="#0000a8"/><stop offset="0.924" stop-color="#0000a5"/><stop offset="0.933" stop-color="#0000a3"/><stop offset="0.941" stop-color="#0000a1"/><stop offset="0.950" stop-color="#00009f"/><stop offset="0.958" stop-color="#00009d"/><stop offset="0.966" stop-color="#00009b"/><stop offset="0.975" stop-color="#000099"/><stop offset="0.983" stop-color="#000098"/><stop offset="0.992" stop-color="#000096"/><stop offset="1.000" stop-color="#000095"/></linearGradient></defs><g stroke="#111" stroke-width="1.15" fill="none"><rect x="53.80" y="11.60" width="282.00" height="259.50"/><path d="M53.80 271.10 v-3.5 M53.80 11.60 v3.5"/><path d="M147.80 271.10 v-3.5 M147.80 11.60 v3.5"/><path d="M241.80 271.10 v-3.5 M241.80 11.60 v3.5"/><path d="M335.80 271.10 v-3.5 M335.80 11.60 v3.5"/><path d="M53.80 271.10 h3.5 M335.80 271.10 h-3.5"/><path d="M53.80 219.20 h3.5 M335.80 219.20 h-3.5"/><path d="M53.80 167.30 h3.5 M335.80 167.30 h-3.5"/><path d="M53.80 115.40 h3.5 M335.80 115.40 h-3.5"/><path d="M53.80 63.50 h3.5 M335.80 63.50 h-3.5"/><path d="M53.80 11.60 h3.5 M335.80 11.60 h-3.5"/></g><g fill="none" stroke-width="4"><path d="M128.30,238.50 L128.82,236.78 L129.34,235.06 L129.86,233.33 L130.38,231.60 L130.90,229.86 L131.42,228.11 L131.94,226.36 L132.46,224.60 L132.98,222.84 L133.50,221.07 L134.02,219.30 L134.54,217.52 L135.06,215.76 L135.58,214.02 L136.10,212.28 L136.62,210.53 L137.14,208.75 L137.66,206.94 L138.18,205.07 L138.70,203.14 L139.22,201.15 L139.74,199.15 L140.26,197.09 L140.78,194.91 L141.30,192.54 L141.82,189.88 L142.34,186.72 L142.86,182.99 L143.38,178.84 L143.90,174.41 L144.42,169.85 L144.94,165.30 L145.46,160.92 L145.98,156.85 L146.50,153.23 L147.02,150.15 L147.54,147.39 L148.06,144.84 L148.58,142.40 L149.10,139.94 L149.62,137.40 L150.14,134.91 L150.66,132.50 L151.18,130.06 L151.70,127.48 L152.22,124.65 L152.74,121.44 L153.26,117.69 L153.78,113.50 L154.30,109.02 L154.82,104.42 L155.34,99.84 L155.86,95.45 L156.38,91.38 L156.90,87.48 L157.42,83.68 L157.94,80.00 L158.46,76.52 L158.98,73.24 L159.50,70.09 L160.02,67.10 L160.54,64.29 L161.06,61.70 L161.58,59.43 L162.10,57.37 L162.62,55.36 L163.14,53.18 L163.66,50.67 L164.18,47.78 L164.70,44.79 L165.22,41.89 L165.74,38.89 L166.26,35.93 L166.78,33.17 L167.30,30.78 L167.82,28.68 L168.34,26.66 L168.86,24.75 L169.38,22.99 L169.90,21.39 L170.42,19.99 L170.94,18.81 L171.46,17.82 L171.98,16.91 L172.50,16.07 L173.02,15.30 L173.54,14.63 L174.06,14.05 L174.58,13.59 L175.10,13.24 L175.62,12.93 L176.14,12.65 L176.66,12.38 L177.18,12.14 L177.70,11.94 L178.22,11.78 L178.74,11.66 L179.26,11.61 L179.78,11.60 L180.31,11.63 L180.83,11.68 L181.35,11.75 L181.87,11.84 L182.39,11.95 L182.91,12.08 L183.43,12.22 L183.95,12.37 L184.47,12.53 L184.99,12.70 L185.51,12.92 L186.03,13.25 L186.55,13.68 L187.07,14.18 L187.59,14.74 L188.11,15.34 L188.63,15.97 L189.15,16.62 L189.67,17.26 L190.19,17.89 L190.71,18.49 L191.23,19.03 L191.75,19.53 L192.27,20.03 L192.79,20.52 L193.31,21.02 L193.83,21.51 L194.35,22.00 L194.87,22.47 L195.39,22.94 L195.91,23.40 L196.43,23.84 L196.95,24.27 L197.47,24.67 L197.99,25.06 L198.51,25.45 L199.03,25.84 L199.55,26.22 L200.07,26.61 L200.59,26.98 L201.11,27.34 L201.63,27.68 L202.15,28.00 L202.67,28.29 L203.19,28.55 L203.71,28.78 L204.23,28.98 L204.75,29.14 L205.27,29.31 L205.79,29.47 L206.31,29.63 L206.83,29.77 L207.35,29.91 L207.87,30.04 L208.39,30.15 L208.91,30.24 L209.43,30.31 L209.95,30.37 L210.47,30.39 L210.99,30.40 L211.51,30.39 L212.03,30.38 L212.55,30.36 L213.07,30.34 L213.59,30.31 L214.11,30.27 L214.63,30.23 L215.15,30.19 L215.67,30.15 L216.19,30.10 L216.71,30.05 L217.23,30.00 L217.75,29.93 L218.27,29.85 L218.79,29.76 L219.31,29.64 L219.83,29.52 L220.35,29.38 L220.87,29.23 L221.39,29.07 L221.91,28.91 L222.43,28.74 L222.95,28.56 L223.47,28.38 L223.99,28.20 L224.51,28.00 L225.03,27.78 L225.55,27.55 L226.07,27.30 L226.59,27.04 L227.11,26.77 L227.63,26.48 L228.15,26.18 L228.67,25.88 L229.19,25.57 L229.71,25.24 L230.23,24.92 L230.75,24.56 L231.27,24.17 L231.79,23.76 L232.31,23.33 L232.83,22.89 L233.35,22.45 L233.87,22.01 L234.39,21.58 L234.91,21.17 L235.43,20.78 L235.95,20.40 L236.47,20.03 L236.99,19.66 L237.51,19.29 L238.03,18.91 L238.55,18.54 L239.07,18.15 L239.59,17.73 L240.11,17.29 L240.63,16.84 L241.15,16.38 L241.67,15.92 L242.19,15.47 L242.71,15.05 L243.23,14.66 L243.75,14.31 L244.27,14.01 L244.79,13.75 L245.31,13.48 L245.83,13.21 L246.35,12.94 L246.87,12.69 L247.39,12.45 L247.91,12.24 L248.43,12.04 L248.95,11.88 L249.47,11.75 L249.99,11.66 L250.51,11.61 L251.03,11.60 L251.55,11.60 L252.07,11.60 L252.59,11.60 L253.11,11.60 L253.63,11.60 L254.15,11.60 L254.67,11.60 L255.19,11.60 L255.71,11.60 L256.23,11.61 L256.75,11.64 L257.27,11.70 L257.79,11.78 L258.31,11.89 L258.83,12.02 L259.35,12.17 L259.87,12.34 L260.39,12.52 L260.91,12.73 L261.43,12.94 L261.95,13.17 L262.47,13.41 L262.99,13.65 L263.51,13.91 L264.03,14.18 L264.55,14.54 L265.07,14.97 L265.59,15.46 L266.11,16.01 L266.63,16.62 L267.15,17.26 L267.67,17.95 L268.19,18.65 L268.71,19.38 L269.23,20.15 L269.75,21.02 L270.27,21.98 L270.79,23.02 L271.31,24.11 L271.83,25.23 L272.35,26.39 L272.87,27.55 L273.39,28.71 L273.91,29.87 L274.43,31.05 L274.95,32.25 L275.47,33.47 L275.99,34.73 L276.51,36.03 L277.03,37.37 L277.55,38.76 L278.07,40.19 L278.59,41.69 L279.11,43.26 L279.63,44.94 L280.15,46.71 L280.67,48.56 L281.19,50.46 L281.71,52.41 L282.23,54.39 L282.75,56.39 L283.27,58.38 L283.79,60.36 L284.32,62.35 L284.84,64.35 L285.36,66.38 L285.88,68.43 L286.40,70.50 L286.92,72.60 L287.44,74.73 L287.96,76.88 L288.48,79.05 L289.00,81.26 L289.52,83.51 L290.04,85.80 L290.56,88.13 L291.08,90.48 L291.60,92.85 L292.12,95.23 L292.64,97.63 L293.16,100.03 L293.68,102.46 L294.20,104.91 L294.72,107.38 L295.24,109.86 L295.76,112.37 L296.28,114.88 L296.80,117.42 L297.32,119.99 L297.84,122.58 L298.36,125.18 L298.88,127.80 L299.40,130.42 L299.92,133.04 L300.44,135.67 L300.96,138.28 L301.48,140.89 L302.00,143.51 L302.52,146.16 L303.04,148.81 L303.56,151.46 L304.08,154.10 L304.60,156.72 L305.12,159.31 L305.64,161.84 L306.16,164.33 L306.68,166.76 L307.20,169.14 L307.72,171.49 L308.24,173.81 L308.76,176.10 L309.28,178.37 L309.80,180.61 L310.32,182.84 L310.84,185.05 L311.36,187.24 L311.88,189.46 L312.40,191.67 L312.92,193.84 L313.44,195.92 L313.96,197.85 L314.48,199.66 L315.00,201.42 L315.52,203.14 L316.04,204.80 L316.56,206.42 L317.08,207.99 L317.60,209.52 L318.12,211.00 L318.64,212.44 L319.16,213.83 L319.68,215.19 L320.20,216.50 L320.72,217.77 L321.24,219.02 L321.76,220.23 L322.28,221.41 L322.80,222.57 L323.32,223.70 L323.84,224.81 L324.36,225.89 L324.88,226.95 L325.40,227.99 L325.92,229.01 L326.44,230.01 L326.96,230.99 L327.48,231.96 L328.00,232.92 L328.52,233.86 L329.04,234.79 L329.56,235.71 L330.08,236.62 L330.60,237.51 L331.12,238.38 L331.64,239.24 L332.16,240.08 L332.68,240.91 L333.20,241.72 L333.72,242.51 L334.24,243.29 L334.76,244.05 L335.28,244.78 L335.80,245.50" stroke="#ff0000"/><path d="M128.30,239.50 L128.82,237.85 L129.34,236.19 L129.86,234.52 L130.38,232.85 L130.90,231.16 L131.42,229.48 L131.94,227.78 L132.46,226.08 L132.98,224.37 L133.50,222.65 L134.02,220.93 L134.54,219.20 L135.06,217.49 L135.58,215.81 L136.10,214.15 L136.62,212.49 L137.14,210.80 L137.66,209.06 L138.18,207.24 L138.70,205.34 L139.22,203.32 L139.74,201.17 L140.26,198.89 L140.78,196.45 L141.30,193.83 L141.82,191.02 L142.34,187.91 L142.86,184.33 L143.38,180.36 L143.90,176.13 L144.42,171.76 L144.94,167.36 L145.46,163.05 L145.98,158.96 L146.50,155.19 L147.02,151.87 L147.54,148.97 L148.06,146.32 L148.58,143.82 L149.10,141.37 L149.62,138.88 L150.14,136.33 L150.66,133.90 L151.18,131.50 L151.70,129.02 L152.22,126.34 L152.74,123.36 L153.26,119.85 L153.78,115.74 L154.30,111.23 L154.82,106.49 L155.34,101.73 L155.86,97.13 L156.38,92.89 L156.90,89.05 L157.42,85.38 L157.94,81.85 L158.46,78.43 L158.98,75.11 L159.50,71.82 L160.02,68.58 L160.54,65.50 L161.06,62.68 L161.58,60.24 L162.10,58.11 L162.62,56.12 L163.14,54.04 L163.66,51.69 L164.18,48.93 L164.70,45.96 L165.22,43.00 L165.74,39.92 L166.26,36.76 L166.78,33.78 L167.30,31.21 L167.82,29.07 L168.34,27.06 L168.86,25.18 L169.38,23.44 L169.90,21.88 L170.42,20.49 L170.94,19.31 L171.46,18.31 L171.98,17.37 L172.50,16.49 L173.02,15.70 L173.54,14.99 L174.06,14.39 L174.58,13.90 L175.10,13.54 L175.62,13.22 L176.14,12.92 L176.66,12.65 L177.18,12.41 L177.70,12.22 L178.22,12.08 L178.74,12.01 L179.26,12.01 L179.78,12.05 L180.31,12.13 L180.83,12.24 L181.35,12.39 L181.87,12.56 L182.39,12.76 L182.91,12.98 L183.43,13.22 L183.95,13.47 L184.47,13.73 L184.99,13.99 L185.51,14.32 L186.03,14.75 L186.55,15.27 L187.07,15.86 L187.59,16.51 L188.11,17.21 L188.63,17.93 L189.15,18.65 L189.67,19.37 L190.19,20.07 L190.71,20.72 L191.23,21.32 L191.75,21.86 L192.27,22.39 L192.79,22.91 L193.31,23.42 L193.83,23.93 L194.35,24.42 L194.87,24.91 L195.39,25.38 L195.91,25.85 L196.43,26.30 L196.95,26.73 L197.47,27.16 L197.99,27.57 L198.51,27.98 L199.03,28.39 L199.55,28.80 L200.07,29.21 L200.59,29.61 L201.11,29.99 L201.63,30.36 L202.15,30.70 L202.67,31.02 L203.19,31.31 L203.71,31.56 L204.23,31.77 L204.75,31.96 L205.27,32.14 L205.79,32.32 L206.31,32.50 L206.83,32.66 L207.35,32.81 L207.87,32.95 L208.39,33.06 L208.91,33.16 L209.43,33.24 L209.95,33.28 L210.47,33.30 L210.99,33.29 L211.51,33.27 L212.03,33.24 L212.55,33.20 L213.07,33.15 L213.59,33.09 L214.11,33.02 L214.63,32.94 L215.15,32.86 L215.67,32.77 L216.19,32.68 L216.71,32.59 L217.23,32.49 L217.75,32.39 L218.27,32.25 L218.79,32.10 L219.31,31.93 L219.83,31.74 L220.35,31.53 L220.87,31.31 L221.39,31.08 L221.91,30.85 L222.43,30.60 L222.95,30.36 L223.47,30.11 L223.99,29.86 L224.51,29.60 L225.03,29.32 L225.55,29.03 L226.07,28.73 L226.59,28.41 L227.11,28.09 L227.63,27.75 L228.15,27.40 L228.67,27.04 L229.19,26.67 L229.71,26.29 L230.23,25.90 L230.75,25.48 L231.27,25.03 L231.79,24.55 L232.31,24.05 L232.83,23.55 L233.35,23.04 L233.87,22.54 L234.39,22.05 L234.91,21.58 L235.43,21.13 L235.95,20.69 L236.47,20.26 L236.99,19.83 L237.51,19.40 L238.03,18.98 L238.55,18.56 L239.07,18.14 L239.59,17.71 L240.11,17.25 L240.63,16.79 L241.15,16.33 L241.67,15.87 L242.19,15.44 L242.71,15.02 L243.23,14.64 L243.75,14.30 L244.27,14.01 L244.79,13.76 L245.31,13.50 L245.83,13.26 L246.35,13.02 L246.87,12.79 L247.39,12.58 L247.91,12.39 L248.43,12.21 L248.95,12.07 L249.47,11.95 L249.99,11.86 L250.51,11.80 L251.03,11.76 L251.55,11.73 L252.07,11.69 L252.59,11.67 L253.11,11.64 L253.63,11.62 L254.15,11.61 L254.67,11.60 L255.19,11.60 L255.71,11.64 L256.23,11.71 L256.75,11.82 L257.27,11.95 L257.79,12.12 L258.31,12.31 L258.83,12.53 L259.35,12.77 L259.87,13.03 L260.39,13.30 L260.91,13.58 L261.43,13.88 L261.95,14.18 L262.47,14.48 L262.99,14.82 L263.51,15.23 L264.03,15.70 L264.55,16.23 L265.07,16.81 L265.59,17.44 L266.11,18.10 L266.63,18.79 L267.15,19.51 L267.67,20.25 L268.19,21.08 L268.71,21.99 L269.23,22.99 L269.75,24.04 L270.27,25.15 L270.79,26.29 L271.31,27.45 L271.83,28.62 L272.35,29.81 L272.87,31.02 L273.39,32.27 L273.91,33.56 L274.43,34.88 L274.95,36.25 L275.47,37.65 L275.99,39.09 L276.51,40.58 L277.03,42.10 L277.55,43.69 L278.07,45.34 L278.59,47.05 L279.11,48.82 L279.63,50.64 L280.15,52.49 L280.67,54.37 L281.19,56.28 L281.71,58.20 L282.23,60.13 L282.75,62.08 L283.27,64.07 L283.79,66.09 L284.32,68.14 L284.84,70.22 L285.36,72.33 L285.88,74.46 L286.40,76.62 L286.92,78.80 L287.44,81.00 L287.96,83.26 L288.48,85.57 L289.00,87.91 L289.52,90.27 L290.04,92.63 L290.56,95.00 L291.08,97.34 L291.60,99.66 L292.12,101.96 L292.64,104.26 L293.16,106.57 L293.68,108.90 L294.20,111.26 L294.72,113.67 L295.24,116.12 L295.76,118.63 L296.28,121.19 L296.80,123.78 L297.32,126.40 L297.84,129.04 L298.36,131.68 L298.88,134.33 L299.40,136.97 L299.92,139.58 L300.44,142.19 L300.96,144.83 L301.48,147.48 L302.00,150.14 L302.52,152.78 L303.04,155.42 L303.56,158.02 L304.08,160.58 L304.60,163.09 L305.12,165.55 L305.64,167.97 L306.16,170.37 L306.68,172.75 L307.20,175.09 L307.72,177.41 L308.24,179.68 L308.76,181.90 L309.28,184.07 L309.80,186.19 L310.32,188.26 L310.84,190.28 L311.36,192.25 L311.88,194.17 L312.40,196.00 L312.92,197.73 L313.44,199.39 L313.96,201.00 L314.48,202.57 L315.00,204.11 L315.52,205.60 L316.04,207.06 L316.56,208.48 L317.08,209.88 L317.60,211.24 L318.12,212.58 L318.64,213.89 L319.16,215.17 L319.68,216.43 L320.20,217.68 L320.72,218.91 L321.24,220.12 L321.76,221.31 L322.28,222.49 L322.80,223.64 L323.32,224.77 L323.84,225.88 L324.36,226.96 L324.88,228.01 L325.40,229.04 L325.92,230.03 L326.44,231.00 L326.96,231.93 L327.48,232.84 L328.00,233.73 L328.52,234.61 L329.04,235.47 L329.56,236.32 L330.08,237.16 L330.60,237.97 L331.12,238.77 L331.64,239.55 L332.16,240.31 L332.68,241.05 L333.20,241.77 L333.72,242.46 L334.24,243.13 L334.76,243.78 L335.28,244.40 L335.80,245.00" stroke="#0000ff" stroke-dasharray="16.149 13.626"/><path d="M128.70,245.00 L129.22,243.35 L129.74,241.71 L130.26,240.07 L130.78,238.44 L131.30,236.81 L131.81,235.20 L132.33,233.58 L132.85,231.98 L133.37,230.37 L133.89,228.78 L134.41,227.19 L134.93,225.61 L135.45,224.09 L135.97,222.62 L136.49,221.19 L137.00,219.78 L137.52,218.36 L138.04,216.91 L138.56,215.42 L139.08,213.84 L139.60,212.18 L140.12,210.40 L140.64,208.48 L141.16,206.43 L141.68,204.25 L142.20,201.90 L142.71,199.35 L143.23,196.57 L143.75,193.54 L144.27,190.12 L144.79,185.78 L145.31,180.70 L145.83,175.17 L146.35,169.47 L146.87,163.88 L147.39,158.68 L147.90,154.16 L148.42,150.55 L148.94,147.53 L149.46,144.84 L149.98,142.27 L150.50,139.63 L151.02,136.77 L151.54,133.85 L152.06,130.88 L152.58,127.83 L153.10,124.63 L153.61,121.23 L154.13,117.62 L154.65,113.81 L155.17,109.84 L155.69,105.74 L156.21,101.53 L156.73,97.26 L157.25,92.89 L157.77,88.19 L158.29,83.28 L158.80,78.36 L159.32,73.61 L159.84,69.23 L160.36,65.27 L160.88,61.46 L161.40,57.81 L161.92,54.32 L162.44,51.03 L162.96,47.96 L163.48,45.12 L164.00,42.41 L164.51,39.75 L165.03,37.24 L165.55,35.00 L166.07,33.15 L166.59,31.80 L167.11,30.66 L167.63,29.56 L168.15,28.56 L168.67,27.67 L169.19,26.93 L169.70,26.36 L170.22,26.01 L170.74,25.90 L171.26,26.03 L171.78,26.35 L172.30,26.83 L172.82,27.43 L173.34,28.12 L173.86,28.86 L174.38,29.62 L174.90,30.36 L175.41,31.10 L175.93,31.94 L176.45,32.87 L176.97,33.86 L177.49,34.89 L178.01,35.96 L178.53,37.03 L179.05,38.09 L179.57,39.15 L180.09,40.25 L180.60,41.40 L181.12,42.57 L181.64,43.76 L182.16,44.97 L182.68,46.18 L183.20,47.38 L183.72,48.57 L184.24,49.74 L184.76,50.88 L185.28,51.98 L185.80,53.03 L186.31,54.03 L186.83,55.00 L187.35,56.00 L187.87,57.00 L188.39,57.99 L188.91,58.97 L189.43,59.93 L189.95,60.85 L190.47,61.73 L190.99,62.55 L191.50,63.31 L192.02,64.00 L192.54,64.60 L193.06,65.10 L193.58,65.52 L194.10,65.92 L194.62,66.32 L195.14,66.70 L195.66,67.07 L196.18,67.43 L196.70,67.77 L197.21,68.09 L197.73,68.38 L198.25,68.65 L198.77,68.90 L199.29,69.11 L199.81,69.28 L200.33,69.42 L200.85,69.52 L201.37,69.58 L201.89,69.60 L202.40,69.57 L202.92,69.49 L203.44,69.37 L203.96,69.21 L204.48,69.01 L205.00,68.78 L205.52,68.52 L206.04,68.24 L206.56,67.93 L207.08,67.60 L207.60,67.25 L208.11,66.89 L208.63,66.52 L209.15,66.14 L209.67,65.76 L210.19,65.38 L210.71,64.98 L211.23,64.52 L211.75,64.00 L212.27,63.42 L212.79,62.80 L213.30,62.14 L213.82,61.44 L214.34,60.71 L214.86,59.96 L215.38,59.19 L215.90,58.40 L216.42,57.60 L216.94,56.81 L217.46,56.01 L217.98,55.22 L218.50,54.45 L219.01,53.69 L219.53,52.92 L220.05,52.13 L220.57,51.32 L221.09,50.50 L221.61,49.68 L222.13,48.84 L222.65,48.00 L223.17,47.15 L223.69,46.30 L224.20,45.45 L224.72,44.60 L225.24,43.76 L225.76,42.92 L226.28,42.09 L226.80,41.27 L227.32,40.45 L227.84,39.63 L228.36,38.81 L228.88,37.99 L229.40,37.16 L229.91,36.34 L230.43,35.51 L230.95,34.67 L231.47,33.83 L231.99,32.98 L232.51,32.12 L233.03,31.25 L233.55,30.36 L234.07,29.44 L234.59,28.50 L235.10,27.55 L235.62,26.60 L236.14,25.65 L236.66,24.73 L237.18,23.84 L237.70,22.98 L238.22,22.16 L238.74,21.33 L239.26,20.51 L239.78,19.69 L240.30,18.89 L240.81,18.12 L241.33,17.40 L241.85,16.73 L242.37,16.13 L242.89,15.60 L243.41,15.13 L243.93,14.66 L244.45,14.18 L244.97,13.73 L245.49,13.30 L246.00,12.90 L246.52,12.55 L247.04,12.25 L247.56,12.02 L248.08,11.87 L248.60,11.80 L249.12,11.83 L249.64,11.96 L250.16,12.19 L250.68,12.49 L251.20,12.88 L251.71,13.33 L252.23,13.85 L252.75,14.41 L253.27,15.03 L253.79,15.68 L254.31,16.37 L254.83,17.07 L255.35,17.80 L255.87,18.53 L256.39,19.27 L256.90,20.14 L257.42,21.15 L257.94,22.29 L258.46,23.54 L258.98,24.88 L259.50,26.29 L260.02,27.75 L260.54,29.26 L261.06,30.79 L261.58,32.32 L262.10,33.84 L262.61,35.33 L263.13,36.83 L263.65,38.36 L264.17,39.93 L264.69,41.54 L265.21,43.17 L265.73,44.84 L266.25,46.54 L266.77,48.28 L267.29,50.04 L267.80,51.83 L268.32,53.66 L268.84,55.51 L269.36,57.43 L269.88,59.40 L270.40,61.42 L270.92,63.49 L271.44,65.59 L271.96,67.72 L272.48,69.88 L273.00,72.05 L273.51,74.22 L274.03,76.41 L274.55,78.67 L275.07,80.97 L275.59,83.31 L276.11,85.66 L276.63,88.01 L277.15,90.34 L277.67,92.63 L278.19,94.86 L278.70,97.02 L279.22,99.11 L279.74,101.14 L280.26,103.14 L280.78,105.10 L281.30,107.04 L281.82,108.97 L282.34,110.90 L282.86,112.83 L283.38,114.77 L283.90,116.74 L284.41,118.71 L284.93,120.67 L285.45,122.63 L285.97,124.59 L286.49,126.55 L287.01,128.51 L287.53,130.48 L288.05,132.46 L288.57,134.45 L289.09,136.44 L289.60,138.46 L290.12,140.49 L290.64,142.55 L291.16,144.65 L291.68,146.77 L292.20,148.91 L292.72,151.06 L293.24,153.21 L293.76,155.34 L294.28,157.46 L294.80,159.55 L295.31,161.60 L295.83,163.61 L296.35,165.57 L296.87,167.50 L297.39,169.40 L297.91,171.29 L298.43,173.16 L298.95,175.00 L299.47,176.82 L299.99,178.62 L300.50,180.40 L301.02,182.15 L301.54,183.88 L302.06,185.58 L302.58,187.26 L303.10,188.93 L303.62,190.61 L304.14,192.26 L304.66,193.90 L305.18,195.50 L305.70,197.06 L306.21,198.57 L306.73,200.01 L307.25,201.38 L307.77,202.67 L308.29,203.91 L308.81,205.12 L309.33,206.29 L309.85,207.43 L310.37,208.54 L310.89,209.63 L311.40,210.68 L311.92,211.72 L312.44,212.73 L312.96,213.73 L313.48,214.70 L314.00,215.67 L314.52,216.62 L315.04,217.57 L315.56,218.51 L316.08,219.44 L316.60,220.36 L317.11,221.27 L317.63,222.17 L318.15,223.06 L318.67,223.93 L319.19,224.80 L319.71,225.65 L320.23,226.49 L320.75,227.32 L321.27,228.13 L321.79,228.93 L322.30,229.71 L322.82,230.48 L323.34,231.23 L323.86,231.96 L324.38,232.67 L324.90,233.37 L325.42,234.05 L325.94,234.72 L326.46,235.38 L326.98,236.04 L327.50,236.69 L328.01,237.32 L328.53,237.95 L329.05,238.57 L329.57,239.17 L330.09,239.77 L330.61,240.35 L331.13,240.92 L331.65,241.49 L332.17,242.03 L332.69,242.57 L333.20,243.09 L333.72,243.60 L334.24,244.10 L334.76,244.58 L335.28,245.05 L335.80,245.50" stroke="#00ff00" stroke-dasharray="15.223 5.074"/><path d="M129.80,260.00 L130.32,258.63 L130.83,257.23 L131.35,255.81 L131.87,254.36 L132.38,252.88 L132.90,251.37 L133.41,249.85 L133.93,248.29 L134.45,246.72 L134.96,245.12 L135.48,243.49 L136.00,241.85 L136.51,240.18 L137.03,238.48 L137.54,236.75 L138.06,234.98 L138.58,233.18 L139.09,231.34 L139.61,229.45 L140.13,227.53 L140.64,225.62 L141.16,223.74 L141.67,221.84 L142.19,219.89 L142.71,217.86 L143.22,215.72 L143.74,213.43 L144.26,210.95 L144.77,208.26 L145.29,205.26 L145.81,201.67 L146.32,197.60 L146.84,193.21 L147.35,188.59 L147.87,183.47 L148.39,177.88 L148.90,172.07 L149.42,166.25 L149.94,160.67 L150.45,155.40 L150.97,150.24 L151.48,145.13 L152.00,139.99 L152.52,134.83 L153.03,129.67 L153.55,124.51 L154.07,119.35 L154.58,114.31 L155.10,109.32 L155.61,104.13 L156.13,98.52 L156.65,92.28 L157.16,85.66 L157.68,79.00 L158.20,72.60 L158.71,66.31 L159.23,60.15 L159.74,53.81 L160.26,47.27 L160.78,45.66 L161.29,45.22 L161.81,45.02 L162.33,45.63 L162.84,48.75 L163.36,53.48 L163.88,58.76 L164.39,64.66 L164.91,72.21 L165.42,79.17 L165.94,84.44 L166.46,89.16 L166.97,93.34 L167.49,96.93 L168.01,99.98 L168.52,102.62 L169.04,105.00 L169.55,107.23 L170.07,109.47 L170.59,111.84 L171.10,114.47 L171.62,117.47 L172.14,120.78 L172.65,124.30 L173.17,127.92 L173.68,131.54 L174.20,135.04 L174.72,138.33 L175.23,141.33 L175.75,144.23 L176.27,147.07 L176.78,149.83 L177.30,152.52 L177.82,155.12 L178.33,157.63 L178.85,160.03 L179.36,162.33 L179.88,164.51 L180.40,166.60 L180.91,168.67 L181.43,170.69 L181.95,172.65 L182.46,174.53 L182.98,176.32 L183.49,177.99 L184.01,179.52 L184.53,180.89 L185.04,182.09 L185.56,183.20 L186.08,184.26 L186.59,185.26 L187.11,186.21 L187.62,187.09 L188.14,187.89 L188.66,188.61 L189.17,189.23 L189.69,189.74 L190.21,190.16 L190.72,190.54 L191.24,190.91 L191.75,191.27 L192.27,191.60 L192.79,191.91 L193.30,192.19 L193.82,192.44 L194.34,192.65 L194.85,192.81 L195.37,192.93 L195.89,192.99 L196.40,193.00 L196.92,192.94 L197.43,192.83 L197.95,192.68 L198.47,192.48 L198.98,192.24 L199.50,191.96 L200.02,191.66 L200.53,191.34 L201.05,191.00 L201.56,190.65 L202.08,190.29 L202.60,189.93 L203.11,189.53 L203.63,189.06 L204.15,188.53 L204.66,187.95 L205.18,187.32 L205.69,186.64 L206.21,185.93 L206.73,185.18 L207.24,184.40 L207.76,183.61 L208.28,182.79 L208.79,181.96 L209.31,181.12 L209.83,180.28 L210.34,179.44 L210.86,178.56 L211.37,177.64 L211.89,176.67 L212.41,175.67 L212.92,174.63 L213.44,173.54 L213.96,172.42 L214.47,171.24 L214.99,170.03 L215.50,168.77 L216.02,167.45 L216.54,166.08 L217.05,164.64 L217.57,163.14 L218.09,161.56 L218.60,159.91 L219.12,158.17 L219.63,156.35 L220.15,154.42 L220.67,152.29 L221.18,149.94 L221.70,147.43 L222.22,144.78 L222.73,142.04 L223.25,139.26 L223.76,136.46 L224.28,133.70 L224.80,131.02 L225.31,128.45 L225.83,125.95 L226.35,123.49 L226.86,121.04 L227.38,118.54 L227.90,115.96 L228.41,113.26 L228.93,110.41 L229.44,107.37 L229.96,104.13 L230.48,100.73 L230.99,97.20 L231.51,93.55 L232.03,89.81 L232.54,85.84 L233.06,81.60 L233.57,77.30 L234.09,73.11 L234.61,69.22 L235.12,65.60 L235.64,62.14 L236.16,58.77 L236.67,55.43 L237.19,52.07 L237.70,48.59 L238.22,44.83 L238.74,40.88 L239.25,36.93 L239.77,33.15 L240.29,29.71 L240.80,26.79 L241.32,24.53 L241.84,22.51 L242.35,20.52 L242.87,18.62 L243.38,16.85 L243.90,15.26 L244.42,13.89 L244.93,12.81 L245.45,12.04 L245.97,11.64 L246.48,11.66 L247.00,12.10 L247.51,12.90 L248.03,14.02 L248.55,15.42 L249.06,17.03 L249.58,18.82 L250.10,20.72 L250.61,22.71 L251.13,24.72 L251.64,26.92 L252.16,29.61 L252.68,32.71 L253.19,36.17 L253.71,39.90 L254.23,43.85 L254.74,47.93 L255.26,52.13 L255.77,56.69 L256.29,61.65 L256.81,67.05 L257.32,72.90 L257.84,79.70 L258.36,87.99 L258.87,95.53 L259.39,100.89 L259.91,105.37 L260.42,109.34 L260.94,113.09 L261.45,116.84 L261.97,120.44 L262.49,123.88 L263.00,127.21 L263.52,130.49 L264.04,133.75 L264.55,137.06 L265.07,140.46 L265.58,143.94 L266.10,147.47 L266.62,151.03 L267.13,154.57 L267.65,158.08 L268.17,161.53 L268.68,164.89 L269.20,168.23 L269.71,171.64 L270.23,175.00 L270.75,178.24 L271.26,181.25 L271.78,183.96 L272.30,186.32 L272.81,188.47 L273.33,190.48 L273.85,192.37 L274.36,194.15 L274.88,195.85 L275.39,197.49 L275.91,199.10 L276.43,200.70 L276.94,202.28 L277.46,203.85 L277.98,205.39 L278.49,206.91 L279.01,208.39 L279.52,209.85 L280.04,211.27 L280.56,212.65 L281.07,213.98 L281.59,215.27 L282.11,216.52 L282.62,217.70 L283.14,218.84 L283.65,219.91 L284.17,220.93 L284.69,221.93 L285.20,222.91 L285.72,223.86 L286.24,224.78 L286.75,225.68 L287.27,226.55 L287.78,227.40 L288.30,228.22 L288.82,229.02 L289.33,229.79 L289.85,230.54 L290.37,231.27 L290.88,231.97 L291.40,232.64 L291.92,233.29 L292.43,233.92 L292.95,234.53 L293.46,235.13 L293.98,235.72 L294.50,236.30 L295.01,236.88 L295.53,237.44 L296.05,238.00 L296.56,238.54 L297.08,239.08 L297.59,239.60 L298.11,240.11 L298.63,240.60 L299.14,241.09 L299.66,241.56 L300.18,242.01 L300.69,242.45 L301.21,242.88 L301.72,243.29 L302.24,243.68 L302.76,244.06 L303.27,244.42 L303.79,244.77 L304.31,245.09 L304.82,245.40 L305.34,245.69 L305.86,245.97 L306.37,246.24 L306.89,246.51 L307.40,246.77 L307.92,247.02 L308.44,247.26 L308.95,247.50 L309.47,247.73 L309.99,247.96 L310.50,248.18 L311.02,248.39 L311.53,248.60 L312.05,248.80 L312.57,249.00 L313.08,249.20 L313.60,249.38 L314.12,249.57 L314.63,249.75 L315.15,249.93 L315.66,250.11 L316.18,250.28 L316.70,250.45 L317.21,250.62 L317.73,250.79 L318.25,250.95 L318.76,251.11 L319.28,251.28 L319.79,251.44 L320.31,251.60 L320.83,251.76 L321.34,251.91 L321.86,252.07 L322.38,252.22 L322.89,252.38 L323.41,252.53 L323.93,252.68 L324.44,252.82 L324.96,252.97 L325.47,253.11 L325.99,253.26 L326.51,253.40 L327.02,253.53 L327.54,253.67 L328.06,253.80 L328.57,253.93 L329.09,254.06 L329.60,254.19 L330.12,254.31 L330.64,254.43 L331.15,254.55 L331.67,254.67 L332.19,254.78 L332.70,254.89 L333.22,255.00 L333.73,255.11 L334.25,255.21 L334.77,255.31 L335.28,255.41 L335.80,255.50" stroke="#00ffff" stroke-dasharray="3.814 3.713"/></g><g fill="none" stroke-width="4"><path d="M62 30.8 H89" stroke="#ff0000"/><path d="M62 54.2 H77" stroke="#0000ff"/><path d="M62 77.5 H77.3 M80.1 77.5 H88.5" stroke="#00ff00"/><path d="M62 100.5 H89" stroke="#00ffff" stroke-dasharray="3.5 3.3"/></g><text transform="translate(91.52,38.55) scale(0.1409,0.1746)" font-size="100" font-weight="bold" stroke="#000" stroke-width="1.50">theta=0&#176;</text><text transform="translate(91.52,61.52) scale(0.1423,0.1771)" font-size="100" font-weight="bold" stroke="#000" stroke-width="1.50">theta=25&#176;</text><text transform="translate(91.72,85.25) scale(0.1413,0.1746)" font-size="100" font-weight="bold" stroke="#000" stroke-width="1.50">theta=50&#176;</text><text transform="translate(91.72,108.03) scale(0.1413,0.1743)" font-size="100" font-weight="bold" stroke="#000" stroke-width="1.50">theta=75&#176;</text><text transform="translate(25.27,71.24) scale(0.1822,0.2313)" font-size="100" font-weight="bold" stroke="#000" stroke-width="1.50">0.8</text><text transform="translate(25.27,123.14) scale(0.1822,0.2313)" font-size="100" font-weight="bold" stroke="#000" stroke-width="1.50">0.6</text><text transform="translate(25.27,175.04) scale(0.1822,0.2313)" font-size="100" font-weight="bold" stroke="#000" stroke-width="1.50">0.4</text><text transform="translate(25.27,226.94) scale(0.1822,0.2313)" font-size="100" font-weight="bold" stroke="#000" stroke-width="1.50">0.2</text><text transform="translate(38.94,278.84) scale(0.1822,0.2313)" font-size="100" font-weight="bold" stroke="#000" stroke-width="1.50">0</text><text transform="translate(39.02,19.60) scale(0.1730,0.2348)" font-size="100" font-weight="bold" stroke="#000" stroke-width="1.50">1</text><text transform="translate(44.35,299.23) scale(0.1870,0.2328)" font-size="100" font-weight="bold" stroke="#000" stroke-width="1.50">15</text><text transform="translate(138.35,299.23) scale(0.1870,0.2328)" font-size="100" font-weight="bold" stroke="#000" stroke-width="1.50">20</text><text transform="translate(232.35,299.23) scale(0.1870,0.2328)" font-size="100" font-weight="bold" stroke="#000" stroke-width="1.50">25</text><text transform="translate(326.35,299.23) scale(0.1870,0.2328)" font-size="100" font-weight="bold" stroke="#000" stroke-width="1.50">30</text><text transform="translate(116.25,331.33) scale(0.2226,0.2700)" font-size="100" font-weight="bold" stroke="#000" stroke-width="1.50">Frequency(THz)</text><text transform="translate(152.17,380.45) scale(0.2573,0.2500)" font-size="100" font-weight="normal">(a)</text><text transform="translate(18.87,169.45) scale(0.2273,0.2770) rotate(-90)" font-size="100" font-weight="bold" stroke="#000" stroke-width="1.50">PCR</text><rect x="417.00" y="253.57" width="236.50" height="17.93" fill="url(#h0)" shape-rendering="crispEdges"/><rect x="417.00" y="235.63" width="236.50" height="17.93" fill="url(#h1)" shape-rendering="crispEdges"/><rect x="417.00" y="217.70" width="236.50" height="17.93" fill="url(#h2)" shape-rendering="crispEdges"/><rect x="417.00" y="199.77" width="236.50" height="17.93" fill="url(#h3)" shape-rendering="crispEdges"/><rect x="417.00" y="181.83" width="236.50" height="17.93" fill="url(#h4)" shape-rendering="crispEdges"/><rect x="417.00" y="163.90" width="236.50" height="17.93" fill="url(#h5)" shape-rendering="crispEdges"/><rect x="417.00" y="145.97" width="236.50" height="17.93" fill="url(#h6)" shape-rendering="crispEdges"/><rect x="417.00" y="128.03" width="236.50" height="17.93" fill="url(#h7)" shape-rendering="crispEdges"/><rect x="417.00" y="110.10" width="236.50" height="17.93" fill="url(#h8)" shape-rendering="crispEdges"/><rect x="417.00" y="92.17" width="236.50" height="17.93" fill="url(#h9)" shape-rendering="crispEdges"/><rect x="417.00" y="74.23" width="236.50" height="17.93" fill="url(#h10)" shape-rendering="crispEdges"/><rect x="417.00" y="56.30" width="236.50" height="17.93" fill="url(#h11)" shape-rendering="crispEdges"/><rect x="417.00" y="38.37" width="236.50" height="17.93" fill="url(#h12)" shape-rendering="crispEdges"/><rect x="417.00" y="20.43" width="236.50" height="17.93" fill="url(#h13)" shape-rendering="crispEdges"/><rect x="417.00" y="2.50" width="236.50" height="17.93" fill="url(#h14)" shape-rendering="crispEdges"/><g stroke="#111" stroke-width="1.15" fill="none"><rect x="417.00" y="2.50" width="236.50" height="269.00"/><path d="M417.00 271.50 v-3 M417.00 2.50 v3"/><path d="M438.50 271.50 v-3 M438.50 2.50 v3"/><path d="M460.00 271.50 v-3 M460.00 2.50 v3"/><path d="M481.50 271.50 v-3 M481.50 2.50 v3"/><path d="M503.00 271.50 v-3 M503.00 2.50 v3"/><path d="M524.50 271.50 v-3 M524.50 2.50 v3"/><path d="M546.00 271.50 v-3 M546.00 2.50 v3"/><path d="M567.50 271.50 v-3 M567.50 2.50 v3"/><path d="M589.00 271.50 v-3 M589.00 2.50 v3"/><path d="M610.50 271.50 v-3 M610.50 2.50 v3"/><path d="M632.00 271.50 v-3 M632.00 2.50 v3"/><path d="M653.50 271.50 v-3 M653.50 2.50 v3"/><path d="M417.00 262.53 h3 M653.50 262.53 h-3"/><path d="M417.00 172.87 h3 M653.50 172.87 h-3"/><path d="M417.00 83.20 h3 M653.50 83.20 h-3"/><path d="M417.00 11.47 h3 M653.50 11.47 h-3"/></g><text transform="translate(408.77,295.67) scale(0.1587,0.2134)" font-size="100" font-weight="bold" stroke="#000" stroke-width="1.50">19</text><text transform="translate(430.27,295.67) scale(0.1587,0.2134)" font-size="100" font-weight="bold" stroke="#000" stroke-width="1.50">20</text><text transform="translate(451.77,295.67) scale(0.1587,0.2134)" font-size="100" font-weight="bold" stroke="#000" stroke-width="1.50">21</text><text transform="translate(473.27,295.67) scale(0.1587,0.2134)" font-size="100" font-weight="bold" stroke="#000" stroke-width="1.50">22</text><text transform="translate(494.77,295.67) scale(0.1587,0.2134)" font-size="100" font-weight="bold" stroke="#000" stroke-width="1.50">23</text><text transform="translate(516.27,295.67) scale(0.1587,0.2134)" font-size="100" font-weight="bold" stroke="#000" stroke-width="1.50">24</text><text transform="translate(537.77,295.67) scale(0.1587,0.2134)" font-size="100" font-weight="bold" stroke="#000" stroke-width="1.50">25</text><text transform="translate(559.27,295.67) scale(0.1587,0.2134)" font-size="100" font-weight="bold" stroke="#000" stroke-width="1.50">26</text><text transform="translate(580.77,295.67) scale(0.1587,0.2134)" font-size="100" font-weight="bold" stroke="#000" stroke-width="1.50">27</text><text transform="translate(602.27,295.67) scale(0.1587,0.2134)" font-size="100" font-weight="bold" stroke="#000" stroke-width="1.50">28</text><text transform="translate(623.77,295.67) scale(0.1587,0.2134)" font-size="100" font-weight="bold" stroke="#000" stroke-width="1.50">29</text><text transform="translate(645.27,295.67) scale(0.1587,0.2134)" font-size="100" font-weight="bold" stroke="#000" stroke-width="1.50">30</text><text transform="translate(405.05,269.82) scale(0.1598,0.2075)" font-size="100" font-weight="bold" stroke="#000" stroke-width="1.50">0</text><text transform="translate(397.06,180.15) scale(0.1598,0.2075)" font-size="100" font-weight="bold" stroke="#000" stroke-width="1.50">25</text><text transform="translate(397.06,90.49) scale(0.1598,0.2075)" font-size="100" font-weight="bold" stroke="#000" stroke-width="1.50">50</text><text transform="translate(397.06,18.75) scale(0.1598,0.2075)" font-size="100" font-weight="bold" stroke="#000" stroke-width="1.50">75</text><text transform="translate(458.67,327.51) scale(0.2175,0.2711)" font-size="100" font-weight="bold" stroke="#000" stroke-width="1.50">Frequency(THz)</text><text transform="translate(521.47,380.52) scale(0.2565,0.2467)" font-size="100" font-weight="normal">(b)</text><text transform="translate(390.60,256.96) scale(0.2185,0.2857) rotate(-90)" font-size="100" font-weight="bold" stroke="#000" stroke-width="1.50">Incident Angle(deg)</text><rect x="669.60" y="267.00" width="16.70" height="4.50" fill="#000087" shape-rendering="crispEdges"/><rect x="669.60" y="262.80" width="16.70" height="4.50" fill="#000097" shape-rendering="crispEdges"/><rect x="669.60" y="258.60" width="16.70" height="4.50" fill="#0000a7" shape-rendering="crispEdges"/><rect x="669.60" y="254.39" width="16.70" height="4.50" fill="#0000b7" shape-rendering="crispEdges"/><rect x="669.60" y="250.19" width="16.70" height="4.50" fill="#0000c7" shape-rendering="crispEdges"/><rect x="669.60" y="245.99" width="16.70" height="4.50" fill="#0000d7" shape-rendering="crispEdges"/><rect x="669.60" y="241.79" width="16.70" height="4.50" fill="#0000e7" shape-rendering="crispEdges"/><rect x="669.60" y="237.59" width="16.70" height="4.50" fill="#0000f7" shape-rendering="crispEdges"/><rect x="669.60" y="233.39" width="16.70" height="4.50" fill="#0008ff" shape-rendering="crispEdges"/><rect x="669.60" y="229.18" width="16.70" height="4.50" fill="#0018ff" shape-rendering="crispEdges"/><rect x="669.60" y="224.98" width="16.70" height="4.50" fill="#0028ff" shape-rendering="crispEdges"/><rect x="669.60" y="220.78" width="16.70" height="4.50" fill="#0038ff" shape-rendering="crispEdges"/><rect x="669.60" y="216.58" width="16.70" height="4.50" fill="#0048ff" shape-rendering="crispEdges"/><rect x="669.60" y="212.38" width="16.70" height="4.50" fill="#0058ff" shape-rendering="crispEdges"/><rect x="669.60" y="208.18" width="16.70" height="4.50" fill="#0068ff" shape-rendering="crispEdges"/><rect x="669.60" y="203.97" width="16.70" height="4.50" fill="#0078ff" shape-rendering="crispEdges"/><rect x="669.60" y="199.77" width="16.70" height="4.50" fill="#0087ff" shape-rendering="crispEdges"/><rect x="669.60" y="195.57" width="16.70" height="4.50" fill="#0097ff" shape-rendering="crispEdges"/><rect x="669.60" y="191.37" width="16.70" height="4.50" fill="#00a7ff" shape-rendering="crispEdges"/><rect x="669.60" y="187.17" width="16.70" height="4.50" fill="#00b7ff" shape-rendering="crispEdges"/><rect x="669.60" y="182.97" width="16.70" height="4.50" fill="#00c7ff" shape-rendering="crispEdges"/><rect x="669.60" y="178.77" width="16.70" height="4.50" fill="#00d7ff" shape-rendering="crispEdges"/><rect x="669.60" y="174.56" width="16.70" height="4.50" fill="#00e7ff" shape-rendering="crispEdges"/><rect x="669.60" y="170.36" width="16.70" height="4.50" fill="#00f7ff" shape-rendering="crispEdges"/><rect x="669.60" y="166.16" width="16.70" height="4.50" fill="#08fff7" shape-rendering="crispEdges"/><rect x="669.60" y="161.96" width="16.70" height="4.50" fill="#18ffe7" shape-rendering="crispEdges"/><rect x="669.60" y="157.76" width="16.70" height="4.50" fill="#28ffd7" shape-rendering="crispEdges"/><rect x="669.60" y="153.56" width="16.70" height="4.50" fill="#38ffc7" shape-rendering="crispEdges"/><rect x="669.60" y="149.35" width="16.70" height="4.50" fill="#48ffb7" shape-rendering="crispEdges"/><rect x="669.60" y="145.15" width="16.70" height="4.50" fill="#58ffa7" shape-rendering="crispEdges"/><rect x="669.60" y="140.95" width="16.70" height="4.50" fill="#68ff97" shape-rendering="crispEdges"/><rect x="669.60" y="136.75" width="16.70" height="4.50" fill="#78ff87" shape-rendering="crispEdges"/><rect x="669.60" y="132.55" width="16.70" height="4.50" fill="#87ff78" shape-rendering="crispEdges"/><rect x="669.60" y="128.35" width="16.70" height="4.50" fill="#97ff68" shape-rendering="crispEdges"/><rect x="669.60" y="124.15" width="16.70" height="4.50" fill="#a7ff58" shape-rendering="crispEdges"/><rect x="669.60" y="119.94" width="16.70" height="4.50" fill="#b7ff48" shape-rendering="crispEdges"/><rect x="669.60" y="115.74" width="16.70" height="4.50" fill="#c7ff38" shape-rendering="crispEdges"/><rect x="669.60" y="111.54" width="16.70" height="4.50" fill="#d7ff28" shape-rendering="crispEdges"/><rect x="669.60" y="107.34" width="16.70" height="4.50" fill="#e7ff18" shape-rendering="crispEdges"/><rect x="669.60" y="103.14" width="16.70" height="4.50" fill="#f7ff08" shape-rendering="crispEdges"/><rect x="669.60" y="98.94" width="16.70" height="4.50" fill="#fff700" shape-rendering="crispEdges"/><rect x="669.60" y="94.73" width="16.70" height="4.50" fill="#ffe700" shape-rendering="crispEdges"/><rect x="669.60" y="90.53" width="16.70" height="4.50" fill="#ffd700" shape-rendering="crispEdges"/><rect x="669.60" y="86.33" width="16.70" height="4.50" fill="#ffc700" shape-rendering="crispEdges"/><rect x="669.60" y="82.13" width="16.70" height="4.50" fill="#ffb700" shape-rendering="crispEdges"/><rect x="669.60" y="77.93" width="16.70" height="4.50" fill="#ffa700" shape-rendering="crispEdges"/><rect x="669.60" y="73.73" width="16.70" height="4.50" fill="#ff9700" shape-rendering="crispEdges"/><rect x="669.60" y="69.53" width="16.70" height="4.50" fill="#ff8700" shape-rendering="crispEdges"/><rect x="669.60" y="65.32" width="16.70" height="4.50" fill="#ff7800" shape-rendering="crispEdges"/><rect x="669.60" y="61.12" width="16.70" height="4.50" fill="#ff6800" shape-rendering="crispEdges"/><rect x="669.60" y="56.92" width="16.70" height="4.50" fill="#ff5800" shape-rendering="crispEdges"/><rect x="669.60" y="52.72" width="16.70" height="4.50" fill="#ff4800" shape-rendering="crispEdges"/><rect x="669.60" y="48.52" width="16.70" height="4.50" fill="#ff3800" shape-rendering="crispEdges"/><rect x="669.60" y="44.32" width="16.70" height="4.50" fill="#ff2800" shape-rendering="crispEdges"/><rect x="669.60" y="40.11" width="16.70" height="4.50" fill="#ff1800" shape-rendering="crispEdges"/><rect x="669.60" y="35.91" width="16.70" height="4.50" fill="#ff0800" shape-rendering="crispEdges"/><rect x="669.60" y="31.71" width="16.70" height="4.50" fill="#f70000" shape-rendering="crispEdges"/><rect x="669.60" y="27.51" width="16.70" height="4.50" fill="#e70000" shape-rendering="crispEdges"/><rect x="669.60" y="23.31" width="16.70" height="4.50" fill="#d70000" shape-rendering="crispEdges"/><rect x="669.60" y="19.11" width="16.70" height="4.50" fill="#c70000" shape-rendering="crispEdges"/><rect x="669.60" y="14.90" width="16.70" height="4.50" fill="#b70000" shape-rendering="crispEdges"/><rect x="669.60" y="10.70" width="16.70" height="4.50" fill="#a70000" shape-rendering="crispEdges"/><rect x="669.60" y="6.50" width="16.70" height="4.50" fill="#970000" shape-rendering="crispEdges"/><rect x="669.60" y="2.30" width="16.70" height="4.50" fill="#870000" shape-rendering="crispEdges"/><g stroke="#111" stroke-width="1.15" fill="none"><rect x="669.60" y="2.30" width="16.70" height="268.90"/><path d="M686.30 226.38 h-2.5"/><path d="M686.30 170.36 h-2.5"/><path d="M686.30 114.34 h-2.5"/><path d="M686.30 58.32 h-2.5"/></g><text transform="translate(690.74,232.99) scale(0.1398,0.1851)" font-size="100" font-weight="bold" stroke="#000" stroke-width="1.50">0.2</text><text transform="translate(690.74,176.97) scale(0.1398,0.1851)" font-size="100" font-weight="bold" stroke="#000" stroke-width="1.50">0.4</text><text transform="translate(690.74,120.95) scale(0.1398,0.1851)" font-size="100" font-weight="bold" stroke="#000" stroke-width="1.50">0.6</text><text transform="translate(690.74,64.93) scale(0.1398,0.1851)" font-size="100" font-weight="bold" stroke="#000" stroke-width="1.50">0.8</text></svg></body></html>
